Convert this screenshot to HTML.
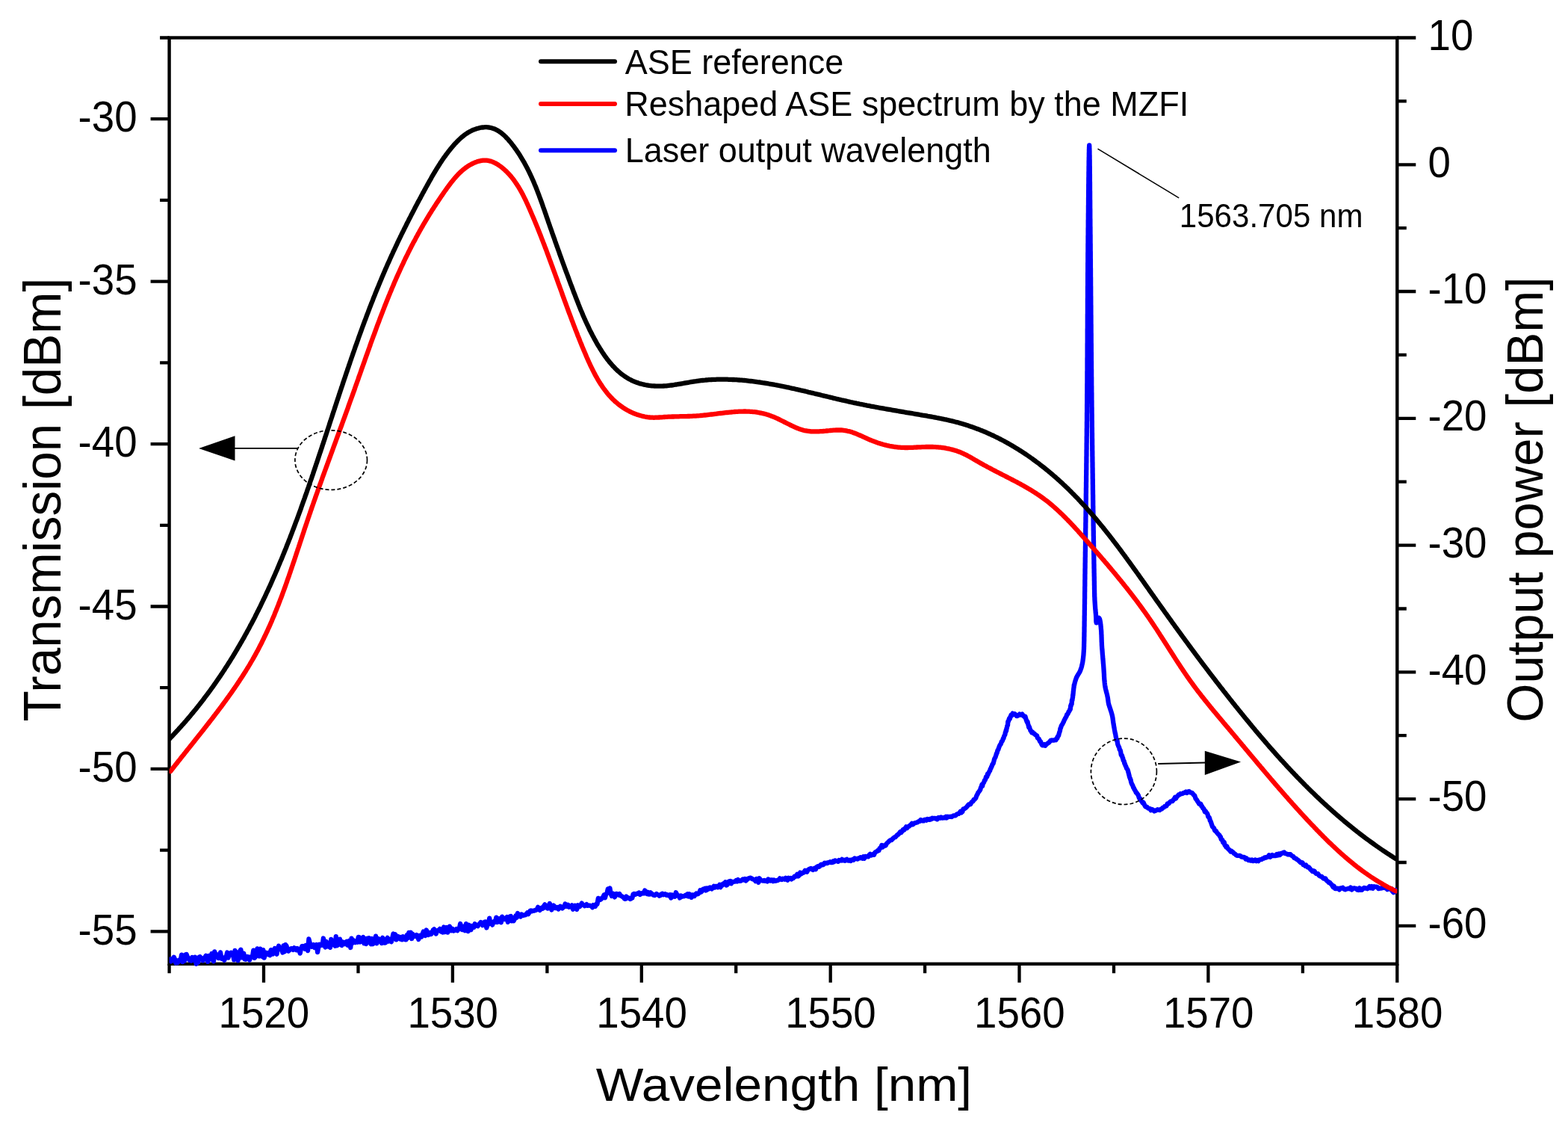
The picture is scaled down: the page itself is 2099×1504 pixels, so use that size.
<!DOCTYPE html>
<html><head><meta charset="utf-8"><title>ASE spectrum</title>
<style>html,body{margin:0;padding:0;background:#fff;overflow:hidden}svg{display:block}</style>
</head><body>
<svg width="2099" height="1504" viewBox="0 0 2099 1504">
<rect width="100%" height="100%" fill="#fff"/>
<rect x="226.6" y="50.5" width="1643.7" height="1239.3" fill="none" stroke="#000" stroke-width="4.4"/>
<path d="M226.6 50.5H214.1M226.6 159.2H201.6M226.6 267.9H214.1M226.6 376.6H201.6M226.6 485.3H214.1M226.6 594.1H201.6M226.6 702.8H214.1M226.6 811.5H201.6M226.6 920.2H214.1M226.6 1028.9H201.6M226.6 1137.6H214.1M226.6 1246.3H201.6M1870.3 50.5H1895.3M1870.3 135.4H1882.8M1870.3 220.3H1895.3M1870.3 305.2H1882.8M1870.3 390.0H1895.3M1870.3 474.9H1882.8M1870.3 559.8H1895.3M1870.3 644.7H1882.8M1870.3 729.6H1895.3M1870.3 814.5H1882.8M1870.3 899.3H1895.3M1870.3 984.2H1882.8M1870.3 1069.1H1895.3M1870.3 1154.0H1882.8M1870.3 1238.9H1895.3M226.6 1289.8V1302.3M353.0 1289.8V1314.8M479.5 1289.8V1302.3M605.9 1289.8V1314.8M732.4 1289.8V1302.3M858.8 1289.8V1314.8M985.2 1289.8V1302.3M1111.7 1289.8V1314.8M1238.1 1289.8V1302.3M1364.5 1289.8V1314.8M1491.0 1289.8V1302.3M1617.4 1289.8V1314.8M1743.9 1289.8V1302.3M1870.3 1289.8V1314.8" stroke="#000" stroke-width="4.3" fill="none"/>
<defs><clipPath id="pc"><rect x="226.6" y="0" width="1643.7" height="1504"/></clipPath></defs>
<g fill="none" stroke-linejoin="round" stroke-linecap="round" stroke-width="6.30" clip-path="url(#pc)">
<path d="M227.5 1283.5L228.8 1286.4 230.1 1283.5 231.4 1283.1 232.7 1280.7 234.0 1283.4 235.3 1288.5 236.6 1285.8 237.9 1288.1 239.2 1285.0 240.5 1285.5 241.8 1284.7 243.1 1277.6 244.4 1287.2 245.7 1285.8 247.0 1285.7 248.3 1277.3 249.6 1277.0 250.9 1280.3 252.2 1281.8 253.5 1284.7 254.8 1283.4 256.1 1285.5 257.4 1281.0 258.7 1284.6 260.0 1284.9 261.3 1280.8 262.6 1289.9 263.9 1285.4 265.2 1287.8 266.5 1280.8 267.8 1280.3 269.1 1281.7 270.4 1282.6 271.7 1285.3 273.0 1283.7 274.3 1280.9 275.6 1278.9 276.9 1280.4 278.2 1286.8 279.5 1279.0 280.8 1282.8 282.1 1283.4 283.4 1276.0 284.7 1281.6 286.0 1286.2 287.3 1273.5 288.6 1279.7 289.9 1280.3 291.2 1277.4 292.5 1282.1 293.8 1279.8 295.1 1274.4 296.4 1282.8 297.7 1282.1 299.0 1283.0 300.3 1284.8 301.6 1280.7 302.9 1279.8 304.2 1274.5 305.5 1281.6 306.8 1277.1 308.1 1277.7 309.4 1274.7 310.7 1275.8 312.0 1277.5 313.3 1284.3 314.6 1272.0 315.9 1274.2 317.2 1280.6 318.5 1285.2 319.8 1282.1 321.1 1272.9 322.4 1270.7 323.7 1281.4 325.0 1277.3 326.3 1275.9 327.6 1283.5 328.9 1283.8 330.2 1280.1 331.5 1280.2 332.8 1280.6 334.1 1284.6 335.4 1280.6 336.7 1279.9 338.0 1279.7 339.3 1271.6 340.6 1281.9 341.9 1280.5 343.2 1278.7 344.5 1269.4 345.8 1274.2 347.1 1279.5 348.4 1269.7 349.7 1275.5 351.0 1279.9 352.3 1271.2 353.6 1281.7 354.9 1277.6 356.2 1274.8 357.5 1276.3 358.8 1277.1 360.1 1274.9 361.4 1278.2 362.7 1271.2 364.0 1271.7 365.3 1276.6 366.6 1272.5 367.9 1268.9 369.2 1275.2 370.5 1276.7 371.8 1269.4 373.1 1265.7 374.4 1269.9 375.7 1269.5 377.0 1268.7 378.3 1274.6 379.6 1265.5 380.9 1273.5 382.2 1264.2 383.5 1265.8 384.8 1270.8 386.1 1272.6 387.4 1271.6 388.7 1269.8 390.0 1269.2 391.3 1269.3 392.6 1270.9 393.9 1268.3 395.2 1270.1 396.5 1271.1 397.8 1269.0 399.1 1271.7 400.4 1270.7 401.7 1275.6 403.0 1269.2 404.3 1266.2 405.6 1266.0 406.9 1266.9 408.2 1269.8 409.5 1265.0 410.8 1267.3 412.1 1272.1 413.4 1256.5 414.7 1261.5 416.0 1266.2 417.3 1266.8 418.6 1266.3 419.9 1264.1 421.2 1267.9 422.5 1266.7 423.8 1264.0 425.1 1274.1 426.4 1266.9 427.7 1263.7 429.0 1265.1 430.3 1264.5 431.6 1264.8 432.9 1255.5 434.2 1262.8 435.5 1267.5 436.8 1259.9 438.1 1263.3 439.4 1266.5 440.7 1265.9 442.0 1267.8 443.3 1257.0 444.6 1261.3 445.9 1261.2 447.2 1264.3 448.5 1265.7 449.8 1253.2 451.1 1265.4 452.4 1257.1 453.7 1263.8 455.0 1256.7 456.3 1261.9 457.6 1265.0 458.9 1260.5 460.2 1261.3 461.5 1263.1 462.8 1260.8 464.1 1259.8 465.4 1264.8 466.7 1263.0 468.0 1258.6 469.3 1268.0 470.6 1255.7 471.9 1262.0 473.2 1258.2 474.5 1259.4 475.8 1261.1 477.1 1259.5 478.4 1260.7 479.7 1254.0 481.0 1254.1 482.3 1260.5 483.6 1255.7 484.9 1255.5 486.2 1254.1 487.5 1262.4 488.8 1260.8 490.1 1263.0 491.4 1255.8 492.7 1258.6 494.0 1255.3 495.3 1260.9 496.6 1263.3 497.9 1256.0 499.2 1263.2 500.5 1261.4 501.8 1257.9 503.1 1252.6 504.4 1262.4 505.7 1258.0 507.0 1256.4 508.3 1259.2 509.6 1259.1 510.9 1262.1 512.2 1254.8 513.5 1260.8 514.8 1261.7 516.1 1261.4 517.4 1256.6 518.7 1254.9 520.0 1259.6 521.3 1256.9 522.6 1256.8 523.9 1260.2 525.2 1255.3 526.5 1249.5 527.8 1254.6 529.1 1250.3 530.4 1257.4 531.7 1255.8 533.0 1253.0 534.3 1254.4 535.6 1256.4 536.9 1254.1 538.2 1257.3 539.5 1253.3 540.8 1256.1 542.1 1257.2 543.4 1257.4 544.7 1251.1 546.0 1255.3 547.3 1247.9 548.6 1250.1 549.9 1247.8 551.2 1256.0 552.5 1249.8 553.8 1253.1 555.1 1252.5 556.4 1252.9 557.7 1251.2 559.0 1253.1 560.3 1256.9 561.6 1251.9 562.9 1252.7 564.2 1253.5 565.5 1249.9 566.8 1246.6 568.1 1248.0 569.4 1252.0 570.7 1244.5 572.0 1246.9 573.3 1250.9 574.6 1250.2 575.9 1248.0 577.2 1249.9 578.5 1248.1 579.8 1244.5 581.1 1243.4 582.4 1245.7 583.7 1249.6 585.0 1245.7 586.3 1244.7 587.6 1245.0 588.9 1242.9 590.2 1246.4 591.5 1243.7 592.8 1247.5 594.1 1240.5 595.4 1247.2 596.7 1244.6 598.0 1241.1 599.3 1247.6 600.6 1244.9 601.9 1239.6 603.2 1242.7 604.5 1245.2 605.8 1242.9 607.1 1245.5 608.4 1245.0 609.7 1244.3 611.0 1243.1 612.3 1245.2 613.6 1243.2 614.9 1242.4 616.2 1236.0 617.5 1243.2 618.8 1244.0 620.1 1240.0 621.4 1239.5 622.7 1245.3 624.0 1236.2 625.3 1241.5 626.6 1246.1 627.9 1237.8 629.2 1241.5 630.5 1244.1 631.8 1239.0 633.1 1240.3 634.4 1240.8 635.7 1236.2 637.0 1237.8 638.3 1238.3 639.6 1239.2 640.9 1236.9 642.2 1236.2 643.5 1234.0 644.8 1235.3 646.1 1238.1 647.4 1236.0 648.7 1233.6 650.0 1233.5 651.3 1241.5 652.6 1237.7 653.9 1236.4 655.2 1228.6 656.5 1235.8 657.8 1235.2 659.1 1237.6 660.4 1234.4 661.7 1232.8 663.0 1233.7 664.3 1227.6 665.6 1234.0 666.9 1232.0 668.2 1229.2 669.5 1233.5 670.8 1234.2 672.1 1226.7 673.4 1228.2 674.7 1230.2 676.0 1229.9 677.3 1228.5 678.6 1227.1 679.9 1233.9 681.2 1231.4 682.5 1226.4 683.8 1225.9 685.1 1232.4 686.4 1230.6 687.7 1232.1 689.0 1229.6 690.3 1225.6 691.6 1227.7 692.9 1222.0 694.2 1224.6 695.5 1225.7 696.8 1226.5 698.1 1223.4 699.4 1224.2 700.7 1225.0 702.0 1224.4 703.3 1224.4 704.6 1223.0 705.9 1221.3 707.2 1223.1 708.5 1221.0 709.8 1218.6 711.1 1218.5 712.4 1219.3 713.7 1218.6 715.0 1218.7 716.3 1217.9 717.6 1217.8 718.9 1216.7 720.2 1213.9 721.5 1216.9 722.8 1217.9 724.1 1216.2 725.4 1214.6 726.7 1215.6 728.0 1212.4 729.3 1210.4 730.6 1214.3 731.9 1212.2 733.2 1215.6 734.5 1212.0 735.8 1208.9 737.1 1212.2 738.4 1217.5 739.7 1213.6 741.0 1211.6 742.3 1212.8 743.6 1215.2 744.9 1215.0 746.2 1214.1 747.5 1216.4 748.8 1214.5 750.1 1212.7 751.4 1213.6 752.7 1215.4 754.0 1213.8 755.3 1213.7 756.6 1209.4 757.9 1211.1 759.2 1212.8 760.5 1210.8 761.8 1213.6 763.1 1212.8 764.4 1213.5 765.7 1211.4 767.0 1216.8 768.3 1214.4 769.6 1211.7 770.9 1212.3 772.2 1216.9 773.5 1211.2 774.8 1213.3 776.1 1213.2 777.4 1211.1 778.7 1208.6 780.0 1210.9 781.3 1211.0 782.6 1212.2 783.9 1211.5 785.2 1210.1 786.5 1211.8 787.8 1211.6 789.1 1211.6 790.4 1212.0 791.7 1212.1 793.0 1214.2 794.3 1211.1 795.6 1211.9 796.9 1212.8 798.2 1209.7 799.5 1209.8 800.8 1201.9 802.1 1202.5 803.4 1203.9 804.7 1203.2 806.0 1201.5 807.3 1200.5 808.6 1197.5 809.9 1201.3 811.2 1196.6 812.5 1195.1 813.8 1189.4 815.1 1189.8 816.4 1188.5 817.7 1196.4 819.0 1199.0 820.3 1195.4 821.6 1198.9 822.9 1200.3 824.2 1196.0 825.5 1195.8 826.8 1197.0 828.1 1197.6 829.4 1196.1 830.7 1198.6 832.0 1199.0 833.3 1199.9 834.6 1200.6 835.9 1202.6 837.2 1202.9 838.5 1199.6 839.8 1201.7 841.1 1201.4 842.4 1201.7 843.7 1203.0 845.0 1202.3 846.3 1201.6 847.6 1196.5 848.9 1195.9 850.2 1197.0 851.5 1196.3 852.8 1195.7 854.1 1195.9 855.4 1194.6 856.7 1197.0 858.0 1196.3 859.3 1195.6 860.6 1194.6 861.9 1195.4 863.2 1191.4 864.5 1194.2 865.8 1196.0 867.1 1193.7 868.4 1196.6 869.7 1196.6 871.0 1194.4 872.3 1196.3 873.6 1196.4 874.9 1197.7 876.2 1198.1 877.5 1197.2 878.8 1196.0 880.1 1197.2 881.4 1197.4 882.7 1198.7 884.0 1198.1 885.3 1196.6 886.6 1195.7 887.9 1197.2 889.2 1196.7 890.5 1196.2 891.8 1197.7 893.1 1197.2 894.4 1198.1 895.7 1198.8 897.0 1197.3 898.3 1201.5 899.6 1197.4 900.9 1199.6 902.2 1198.1 903.5 1199.6 904.8 1194.3 906.1 1196.8 907.4 1198.3 908.7 1198.9 910.0 1201.5 911.3 1198.5 912.6 1199.9 913.9 1199.1 915.2 1199.4 916.5 1198.7 917.8 1197.7 919.1 1198.6 920.4 1196.3 921.7 1199.5 923.0 1196.3 924.3 1198.1 925.6 1200.8 926.9 1197.3 928.2 1197.5 929.5 1199.0 930.8 1197.0 932.1 1195.5 933.4 1196.4 934.7 1196.0 936.0 1194.8 937.3 1191.3 938.6 1193.5 939.9 1192.4 941.2 1189.7 942.5 1189.9 943.8 1188.9 945.1 1191.5 946.4 1188.4 947.7 1190.1 949.0 1188.2 950.3 1187.5 951.6 1189.1 952.9 1189.5 954.2 1187.3 955.5 1185.9 956.8 1187.5 958.1 1185.9 959.4 1186.0 960.7 1187.3 962.0 1186.4 963.3 1183.8 964.6 1187.2 965.9 1183.8 967.2 1184.5 968.5 1182.3 969.8 1182.7 971.1 1180.2 972.4 1184.5 973.7 1183.7 975.0 1180.0 976.3 1179.3 977.6 1178.9 978.9 1182.3 980.2 1179.9 981.5 1180.1 982.8 1179.6 984.1 1179.6 985.4 1178.1 986.7 1179.3 988.0 1177.1 989.3 1178.6 990.6 1178.9 991.9 1178.7 993.2 1177.6 994.5 1176.4 995.8 1177.4 997.1 1176.2 998.4 1178.5 999.7 1177.2 1001.0 1175.9 1002.3 1175.3 1003.6 1174.9 1004.9 1174.6 1006.2 1175.4 1007.5 1176.3 1008.8 1176.7 1010.1 1177.0 1011.4 1179.1 1012.7 1176.0 1014.0 1177.1 1015.3 1180.8 1016.6 1175.3 1017.9 1177.2 1019.2 1178.2 1020.5 1178.3 1021.8 1178.7 1023.1 1178.0 1024.4 1178.9 1025.7 1178.6 1027.0 1179.5 1028.3 1176.4 1029.6 1177.6 1030.9 1178.6 1032.2 1177.4 1033.5 1177.3 1034.8 1179.1 1036.1 1177.5 1037.4 1178.8 1038.7 1178.7 1040.0 1178.0 1041.3 1178.0 1042.6 1177.1 1043.9 1175.4 1045.2 1176.7 1046.5 1177.0 1047.8 1175.7 1049.1 1176.1 1050.4 1176.8 1051.7 1174.9 1053.0 1176.5 1054.3 1177.7 1055.6 1174.8 1056.9 1175.4 1058.2 1174.9 1059.5 1176.4 1060.8 1174.8 1062.1 1175.0 1063.4 1172.7 1064.7 1172.9 1066.0 1172.3 1067.3 1169.7 1068.6 1172.4 1069.9 1171.1 1071.2 1167.6 1072.5 1169.5 1073.8 1167.9 1075.1 1167.9 1076.4 1167.2 1077.7 1164.7 1079.0 1165.5 1080.3 1166.7 1081.6 1164.1 1082.9 1163.2 1084.2 1162.4 1085.5 1162.0 1086.8 1163.1 1088.1 1164.0 1089.4 1162.3 1090.7 1161.6 1092.0 1163.1 1093.3 1159.9 1094.6 1159.2 1095.9 1159.9 1097.2 1159.3 1098.5 1157.3 1099.8 1156.6 1101.1 1157.4 1102.4 1156.8 1103.7 1154.8 1105.0 1155.3 1106.3 1154.6 1107.6 1155.1 1108.9 1154.1 1110.2 1153.8 1111.5 1153.2 1112.8 1154.2 1114.1 1154.2 1115.4 1152.2 1116.7 1153.1 1118.0 1151.4 1119.3 1151.9 1120.6 1152.4 1121.9 1152.9 1123.2 1151.0 1124.5 1151.3 1125.8 1151.5 1127.1 1149.9 1128.4 1151.4 1129.7 1150.8 1131.0 1151.8 1132.3 1150.5 1133.6 1149.8 1134.9 1151.5 1136.2 1151.7 1137.5 1150.8 1138.8 1151.9 1140.1 1150.6 1141.4 1150.0 1142.7 1150.7 1144.0 1148.5 1145.3 1149.0 1146.6 1149.2 1147.9 1149.6 1149.2 1148.3 1150.5 1148.4 1151.8 1147.2 1153.1 1147.8 1154.4 1148.7 1155.7 1146.4 1157.0 1148.8 1158.3 1145.9 1159.6 1146.2 1160.9 1146.0 1162.2 1146.4 1163.5 1144.0 1164.8 1142.8 1166.1 1144.6 1167.4 1144.1 1168.7 1143.0 1170.0 1143.8 1171.3 1140.7 1172.6 1139.7 1173.9 1139.3 1175.2 1137.9 1176.5 1138.0 1177.8 1134.7 1179.1 1134.4 1180.4 1130.9 1181.7 1133.4 1183.0 1131.5 1184.3 1131.5 1185.6 1131.5 1186.9 1128.7 1188.2 1127.5 1189.5 1126.3 1190.8 1125.0 1192.1 1124.1 1193.4 1124.1 1194.7 1122.6 1196.0 1121.5 1197.3 1120.3 1198.6 1120.1 1199.9 1118.7 1201.2 1117.1 1202.5 1116.7 1203.8 1115.0 1205.1 1113.1 1206.4 1114.0 1207.7 1112.1 1209.0 1109.9 1210.3 1110.5 1211.6 1108.8 1212.9 1106.4 1214.2 1108.0 1215.5 1106.1 1216.8 1105.8 1218.1 1104.5 1219.4 1103.5 1220.7 1101.9 1222.0 1103.2 1223.3 1101.9 1224.6 1101.1 1225.9 1101.1 1227.2 1100.4 1228.5 1100.3 1229.8 1099.1 1231.1 1098.9 1232.4 1097.0 1233.7 1097.8 1235.0 1098.3 1236.3 1098.4 1237.6 1096.8 1238.9 1096.7 1240.2 1097.6 1241.5 1096.0 1242.8 1096.5 1244.1 1096.9 1245.4 1095.6 1246.7 1096.2 1248.0 1094.7 1249.3 1095.2 1250.6 1094.9 1251.9 1094.9 1253.2 1095.5 1254.5 1096.3 1255.8 1094.1 1257.1 1094.0 1258.4 1094.7 1259.7 1093.5 1261.0 1094.5 1262.3 1094.5 1263.6 1093.8 1264.9 1094.3 1266.2 1092.9 1267.5 1094.3 1268.8 1092.7 1270.1 1093.0 1271.4 1092.8 1272.7 1092.7 1274.0 1093.1 1275.3 1092.1 1276.6 1091.3 1277.9 1091.3 1279.2 1091.3 1280.5 1089.7 1281.8 1089.2 1283.1 1089.0 1284.4 1087.6 1285.7 1085.8 1287.0 1087.3 1288.3 1086.1 1289.6 1082.4 1290.9 1082.4 1292.2 1081.3 1293.5 1080.4 1294.3 1079.5 1295.5 1077.9 1296.7 1076.5 1298.0 1076.5 1299.2 1076.2 1300.3 1073.8 1301.4 1072.8 1302.5 1072.4 1303.5 1070.0 1304.5 1070.0 1305.4 1068.7 1306.2 1068.1 1306.9 1065.9 1307.5 1064.4 1308.1 1063.4 1308.7 1062.3 1309.4 1060.5 1310.1 1059.7 1310.8 1058.9 1311.5 1057.8 1312.2 1056.9 1313.0 1053.8 1313.7 1052.8 1314.4 1050.0 1315.1 1051.8 1315.8 1048.6 1316.5 1047.8 1317.2 1046.8 1317.9 1044.2 1318.6 1044.1 1319.3 1042.4 1319.9 1039.8 1320.6 1040.0 1321.3 1039.3 1321.9 1035.8 1322.6 1036.3 1323.2 1034.5 1323.9 1033.4 1324.5 1032.0 1325.2 1031.2 1325.8 1028.8 1326.5 1028.2 1327.1 1026.0 1327.7 1025.4 1328.4 1022.9 1329.0 1022.1 1329.5 1022.0 1330.1 1019.7 1330.6 1017.8 1331.1 1015.7 1331.6 1014.6 1332.1 1013.8 1332.6 1012.9 1333.1 1011.2 1333.6 1009.8 1334.1 1008.0 1334.6 1007.6 1335.2 1005.0 1335.7 1003.5 1336.3 1003.1 1336.9 1001.1 1337.5 999.5 1338.1 997.9 1338.7 996.8 1339.4 996.1 1340.1 994.6 1340.8 992.2 1341.5 992.0 1342.2 990.5 1342.8 988.3 1343.4 988.1 1343.9 986.0 1344.4 984.5 1344.9 983.9 1345.4 982.9 1345.8 980.0 1346.3 979.4 1346.7 977.0 1347.1 977.8 1347.5 974.4 1347.9 974.1 1348.3 971.4 1348.6 970.9 1349.0 970.5 1349.3 965.7 1349.7 965.7 1350.1 964.9 1350.5 963.1 1351.1 961.3 1351.8 961.9 1352.6 959.2 1353.5 956.8 1354.5 957.4 1355.6 954.6 1356.9 955.9 1358.4 955.2 1359.7 956.4 1360.9 958.1 1362.2 958.0 1363.7 957.0 1364.8 955.7 1365.7 956.6 1367.1 955.9 1368.4 955.5 1369.6 957.6 1370.7 958.4 1371.7 959.6 1372.5 958.8 1373.2 961.5 1373.9 963.7 1374.4 965.0 1375.0 966.5 1375.5 965.5 1376.1 968.8 1376.7 970.4 1377.2 973.2 1377.7 972.2 1378.3 974.0 1378.9 975.6 1379.5 977.6 1380.3 978.0 1381.2 980.2 1382.4 979.8 1383.6 981.4 1384.8 981.8 1386.0 983.2 1387.0 983.7 1388.0 984.2 1388.9 987.3 1389.7 988.0 1390.6 988.6 1391.4 990.4 1392.2 992.2 1392.9 992.1 1393.6 994.1 1394.3 995.8 1395.2 997.1 1396.3 997.4 1397.8 996.0 1399.2 997.7 1400.5 996.3 1401.7 995.2 1403.0 994.2 1404.2 993.6 1405.3 992.2 1406.5 990.9 1407.9 990.5 1409.4 990.6 1410.9 990.5 1412.4 989.9 1413.6 990.2 1414.6 987.7 1415.4 987.8 1416.0 985.3 1416.6 984.9 1417.1 984.2 1417.6 982.0 1418.2 979.9 1418.6 979.0 1419.0 977.6 1419.4 974.9 1419.8 974.2 1420.2 973.3 1420.7 971.4 1421.2 970.4 1421.9 969.5 1422.6 968.2 1423.2 967.0 1424.0 965.5 1424.7 963.5 1425.4 962.4 1426.1 960.9 1426.9 959.6 1427.6 958.4 1428.3 956.0 1429.1 955.6 1429.8 954.5 1430.5 952.5 1431.2 951.9 1431.7 950.9 1432.3 949.0 1432.8 949.1 1433.2 944.4 1433.6 944.7 1434.0 942.1 1434.3 942.6 1434.6 942.3 1434.9 937.2 1435.2 937.6 1435.5 936.4 1435.7 934.3 1436.0 933.4 1436.2 930.0 1436.4 930.7 1436.5 928.8 1436.7 927.1 1436.8 925.2 1437.0 924.6 1437.2 922.3 1437.3 921.3 1437.6 919.3 1437.8 916.6 1438.1 916.7 1438.4 915.2 1438.7 913.8 1439.1 912.3 1439.5 910.9 1440.0 909.4 1440.5 908.0 1441.0 906.6 1441.7 905.3 1442.4 904.0 1443.2 902.7 1444.0 901.4 1444.8 900.1 1445.5 898.8 1446.1 897.4 1446.6 896.0 1447.1 894.6 1447.6 893.2 1448.0 891.8 1448.3 890.3 1448.7 888.8 1449.0 887.4 1449.3 885.9 1449.5 884.4 1449.7 882.9 1449.9 881.4 1450.1 879.9 1450.2 878.5 1450.4 877.0 1450.5 875.5 1450.6 874.0 1450.7 872.5 1450.8 871.0 1450.9 869.5 1451.0 868.0 1451.0 866.5 1451.1 865.0 1451.1 863.5 1451.1 862.0 1451.2 860.5 1451.2 859.0 1451.3 857.5 1451.3 856.0 1451.3 854.5 1451.3 853.0 1451.4 851.5 1451.4 850.0 1451.4 848.5 1451.4 847.0 1451.5 845.5 1451.5 844.0 1451.5 842.5 1451.5 841.0 1451.5 839.5 1451.6 838.0 1451.6 836.5 1451.6 835.0 1451.6 833.5 1451.6 832.0 1451.7 830.5 1451.7 829.0 1451.7 827.5 1451.7 826.0 1451.7 824.5 1451.8 823.0 1451.8 821.5 1451.8 820.0 1451.8 818.5 1451.8 817.0 1451.9 815.5 1451.9 814.0 1451.9 812.5 1451.9 811.0 1451.9 809.5 1452.0 808.0 1452.0 806.5 1452.0 805.0 1452.0 803.5 1452.0 802.0 1452.1 800.5 1452.1 799.0 1452.1 797.5 1452.1 796.0 1452.1 794.5 1452.1 793.0 1452.2 791.5 1452.2 790.0 1452.2 788.5 1452.2 787.0 1452.2 785.5 1452.3 784.0 1452.3 782.5 1452.3 781.0 1452.3 779.5 1452.3 778.0 1452.3 776.5 1452.4 775.0 1452.4 773.5 1452.4 772.0 1452.4 770.5 1452.4 769.0 1452.5 767.5 1452.5 766.0 1452.5 764.5 1452.5 763.0 1452.5 761.5 1452.6 760.0 1452.6 758.5 1452.6 757.0 1452.6 755.5 1452.6 754.0 1452.7 752.5 1452.7 751.0 1452.7 749.5 1452.7 748.0 1452.7 746.5 1452.8 745.0 1452.8 743.5 1452.8 742.0 1452.8 740.5 1452.8 739.0 1452.9 737.5 1452.9 736.0 1452.9 734.5 1452.9 733.0 1452.9 731.5 1453.0 730.0 1453.0 728.5 1453.0 727.0 1453.0 725.5 1453.0 724.0 1453.1 722.5 1453.1 721.0 1453.1 719.5 1453.1 718.0 1453.1 716.5 1453.2 715.0 1453.2 713.5 1453.2 712.0 1453.2 710.5 1453.2 709.0 1453.2 707.5 1453.3 706.0 1453.3 704.5 1453.3 703.0 1453.3 701.5 1453.3 700.0 1453.4 698.5 1453.4 697.0 1453.4 695.5 1453.4 694.0 1453.4 692.5 1453.5 691.0 1453.5 689.5 1453.5 688.0 1453.5 686.5 1453.5 685.0 1453.6 683.5 1453.6 682.0 1453.6 680.5 1453.6 679.0 1453.6 677.5 1453.7 676.0 1453.7 674.5 1453.7 673.0 1453.7 671.5 1453.7 670.0 1453.8 668.5 1453.8 667.0 1453.8 665.5 1453.8 664.0 1453.8 662.5 1453.8 661.0 1453.9 659.5 1453.9 658.0 1453.9 656.5 1453.9 655.0 1453.9 653.5 1454.0 652.0 1454.0 650.5 1454.0 649.0 1454.0 647.5 1454.0 646.0 1454.1 644.5 1454.1 643.0 1454.1 641.5 1454.1 640.0 1454.1 638.5 1454.1 637.0 1454.2 635.5 1454.2 634.0 1454.2 632.5 1454.2 631.0 1454.2 629.5 1454.3 628.0 1454.3 626.5 1454.3 625.0 1454.3 623.5 1454.3 622.0 1454.3 620.5 1454.4 619.0 1454.4 617.5 1454.4 616.0 1454.4 614.5 1454.4 613.0 1454.4 611.5 1454.5 610.0 1454.5 608.5 1454.5 607.0 1454.5 605.5 1454.5 604.0 1454.5 602.5 1454.6 601.0 1454.6 599.5 1454.6 598.0 1454.6 596.5 1454.6 595.0 1454.6 593.5 1454.7 592.0 1454.7 590.5 1454.7 589.0 1454.7 587.5 1454.7 586.0 1454.7 584.5 1454.8 583.0 1454.8 581.5 1454.8 580.0 1454.8 578.5 1454.8 577.0 1454.8 575.5 1454.8 574.0 1454.9 572.5 1454.9 571.0 1454.9 569.5 1454.9 568.0 1454.9 566.5 1454.9 565.0 1455.0 563.5 1455.0 562.0 1455.0 560.5 1455.0 559.0 1455.0 557.5 1455.0 556.0 1455.0 554.5 1455.0 553.0 1455.1 551.5 1455.1 550.0 1455.1 548.5 1455.1 547.0 1455.1 545.5 1455.1 544.0 1455.1 542.5 1455.1 541.0 1455.2 539.5 1455.2 538.0 1455.2 536.5 1455.2 535.0 1455.2 533.5 1455.2 532.0 1455.2 530.5 1455.2 529.0 1455.2 527.5 1455.3 526.0 1455.3 524.5 1455.3 523.0 1455.3 521.5 1455.3 520.0 1455.3 518.5 1455.3 517.0 1455.3 515.5 1455.3 514.0 1455.4 512.5 1455.4 511.0 1455.4 509.5 1455.4 508.0 1455.4 506.5 1455.4 505.0 1455.4 503.5 1455.4 502.0 1455.4 500.5 1455.4 499.0 1455.4 497.5 1455.5 496.0 1455.5 494.5 1455.5 493.0 1455.5 491.5 1455.5 490.0 1455.5 488.5 1455.5 487.0 1455.5 485.5 1455.5 484.0 1455.5 482.5 1455.5 481.0 1455.5 479.5 1455.6 478.0 1455.6 476.5 1455.6 475.0 1455.6 473.5 1455.6 472.0 1455.6 470.5 1455.6 469.0 1455.6 467.5 1455.6 466.0 1455.6 464.5 1455.6 463.0 1455.6 461.5 1455.6 460.0 1455.7 458.5 1455.7 457.0 1455.7 455.5 1455.7 454.0 1455.7 452.5 1455.7 451.0 1455.7 449.5 1455.7 448.0 1455.7 446.5 1455.7 445.0 1455.7 443.5 1455.7 442.0 1455.7 440.5 1455.8 439.0 1455.8 437.5 1455.8 436.0 1455.8 434.5 1455.8 433.0 1455.8 431.5 1455.8 430.0 1455.8 428.5 1455.8 427.0 1455.8 425.5 1455.8 424.0 1455.8 422.5 1455.8 421.0 1455.9 419.5 1455.9 418.0 1455.9 416.5 1455.9 415.0 1455.9 413.5 1455.9 412.0 1455.9 410.5 1455.9 409.0 1455.9 407.5 1455.9 406.0 1455.9 404.5 1455.9 403.0 1455.9 401.5 1455.9 400.0 1456.0 398.5 1456.0 397.0 1456.0 395.5 1456.0 394.0 1456.0 392.5 1456.0 391.0 1456.0 389.5 1456.0 388.0 1456.0 386.5 1456.0 385.0 1456.0 383.5 1456.1 382.0 1456.1 380.5 1456.1 379.0 1456.1 377.5 1456.1 376.0 1456.1 374.5 1456.1 373.0 1456.1 371.5 1456.1 370.0 1456.1 368.5 1456.1 367.0 1456.1 365.5 1456.2 364.0 1456.2 362.5 1456.2 361.0 1456.2 359.5 1456.2 358.0 1456.2 356.5 1456.2 355.0 1456.2 353.5 1456.2 352.0 1456.3 350.5 1456.3 349.0 1456.3 347.5 1456.3 346.0 1456.3 344.5 1456.3 343.0 1456.3 341.5 1456.3 340.0 1456.3 338.5 1456.4 337.0 1456.4 335.5 1456.4 334.0 1456.4 332.5 1456.4 331.0 1456.4 329.5 1456.4 328.0 1456.4 326.5 1456.5 325.0 1456.5 323.5 1456.5 322.0 1456.5 320.5 1456.5 319.0 1456.5 317.5 1456.5 316.0 1456.6 314.5 1456.6 313.0 1456.6 311.5 1456.6 310.0 1456.6 308.5 1456.6 307.0 1456.6 305.5 1456.7 304.0 1456.7 302.5 1456.7 301.0 1456.7 299.5 1456.7 298.0 1456.7 296.5 1456.7 295.0 1456.8 293.5 1456.8 292.0 1456.8 290.5 1456.8 289.0 1456.8 287.5 1456.8 286.0 1456.9 284.5 1456.9 283.0 1456.9 281.5 1456.9 280.0 1456.9 278.5 1456.9 277.0 1456.9 275.5 1457.0 274.0 1457.0 272.5 1457.0 271.0 1457.0 269.5 1457.0 268.0 1457.0 266.5 1457.0 265.0 1457.1 263.5 1457.1 262.0 1457.1 260.5 1457.1 259.0 1457.1 257.5 1457.1 256.0 1457.2 254.5 1457.2 253.0 1457.2 251.5 1457.2 250.0 1457.2 248.5 1457.2 247.0 1457.3 245.5 1457.3 244.0 1457.3 242.5 1457.3 241.0 1457.3 239.5 1457.3 238.0 1457.4 236.5 1457.4 235.0 1457.4 233.5 1457.4 232.0 1457.4 230.5 1457.5 229.0 1457.5 227.5 1457.5 226.0 1457.5 224.5 1457.5 223.0 1457.6 221.5 1457.6 220.0 1457.6 218.5 1457.6 217.0 1457.6 215.5 1457.7 214.0 1457.7 212.5 1457.7 211.0 1457.8 209.5 1457.8 208.0 1457.8 206.5 1457.8 205.0 1457.9 203.5 1457.9 202.0 1457.9 200.5 1458.0 199.0 1458.0 197.5 1458.1 196.0 1458.2 194.5 1458.3 196.0 1458.3 197.5 1458.4 199.0 1458.4 200.5 1458.5 202.0 1458.5 203.5 1458.5 205.0 1458.5 206.5 1458.6 208.0 1458.6 209.5 1458.6 211.0 1458.6 212.5 1458.7 214.0 1458.7 215.5 1458.7 217.0 1458.7 218.5 1458.7 220.0 1458.7 221.5 1458.8 223.0 1458.8 224.5 1458.8 226.0 1458.8 227.5 1458.8 229.0 1458.8 230.5 1458.8 232.0 1458.9 233.5 1458.9 235.0 1458.9 236.5 1458.9 238.0 1458.9 239.5 1458.9 241.0 1458.9 242.5 1459.0 244.0 1459.0 245.5 1459.0 247.0 1459.0 248.5 1459.0 250.0 1459.0 251.5 1459.0 253.0 1459.0 254.5 1459.1 256.0 1459.1 257.5 1459.1 259.0 1459.1 260.5 1459.1 262.0 1459.1 263.5 1459.1 265.0 1459.1 266.5 1459.2 268.0 1459.2 269.5 1459.2 271.0 1459.2 272.5 1459.2 274.0 1459.2 275.5 1459.2 277.0 1459.2 278.5 1459.3 280.0 1459.3 281.5 1459.3 283.0 1459.3 284.5 1459.3 286.0 1459.3 287.5 1459.3 289.0 1459.3 290.5 1459.3 292.0 1459.4 293.5 1459.4 295.0 1459.4 296.5 1459.4 298.0 1459.4 299.5 1459.4 301.0 1459.4 302.5 1459.5 304.0 1459.5 305.5 1459.5 307.0 1459.5 308.5 1459.5 310.0 1459.5 311.5 1459.5 313.0 1459.6 314.5 1459.6 316.0 1459.6 317.5 1459.6 319.0 1459.6 320.5 1459.6 322.0 1459.6 323.5 1459.6 325.0 1459.7 326.5 1459.7 328.0 1459.7 329.5 1459.7 331.0 1459.7 332.5 1459.7 334.0 1459.7 335.5 1459.8 337.0 1459.8 338.5 1459.8 340.0 1459.8 341.5 1459.8 343.0 1459.8 344.5 1459.8 346.0 1459.9 347.5 1459.9 349.0 1459.9 350.5 1459.9 352.0 1459.9 353.5 1459.9 355.0 1459.9 356.5 1459.9 358.0 1460.0 359.5 1460.0 361.0 1460.0 362.5 1460.0 364.0 1460.0 365.5 1460.0 367.0 1460.0 368.5 1460.0 370.0 1460.1 371.5 1460.1 373.0 1460.1 374.5 1460.1 376.0 1460.1 377.5 1460.1 379.0 1460.1 380.5 1460.1 382.0 1460.2 383.5 1460.2 385.0 1460.2 386.5 1460.2 388.0 1460.2 389.5 1460.2 391.0 1460.2 392.5 1460.2 394.0 1460.2 395.5 1460.3 397.0 1460.3 398.5 1460.3 400.0 1460.3 401.5 1460.3 403.0 1460.3 404.5 1460.3 406.0 1460.3 407.5 1460.4 409.0 1460.4 410.5 1460.4 412.0 1460.4 413.5 1460.4 415.0 1460.4 416.5 1460.4 418.0 1460.4 419.5 1460.4 421.0 1460.5 422.5 1460.5 424.0 1460.5 425.5 1460.5 427.0 1460.5 428.5 1460.5 430.0 1460.5 431.5 1460.5 433.0 1460.6 434.5 1460.6 436.0 1460.6 437.5 1460.6 439.0 1460.6 440.5 1460.6 442.0 1460.6 443.5 1460.6 445.0 1460.7 446.5 1460.7 448.0 1460.7 449.5 1460.7 451.0 1460.7 452.5 1460.7 454.0 1460.7 455.5 1460.7 457.0 1460.7 458.5 1460.8 460.0 1460.8 461.5 1460.8 463.0 1460.8 464.5 1460.8 466.0 1460.8 467.5 1460.8 469.0 1460.8 470.5 1460.9 472.0 1460.9 473.5 1460.9 475.0 1460.9 476.5 1460.9 478.0 1460.9 479.5 1460.9 481.0 1460.9 482.5 1461.0 484.0 1461.0 485.5 1461.0 487.0 1461.0 488.5 1461.0 490.0 1461.0 491.5 1461.0 493.0 1461.1 494.5 1461.1 496.0 1461.1 497.5 1461.1 499.0 1461.1 500.5 1461.1 502.0 1461.1 503.5 1461.2 505.0 1461.2 506.5 1461.2 508.0 1461.2 509.5 1461.2 511.0 1461.2 512.5 1461.2 514.0 1461.2 515.5 1461.3 517.0 1461.3 518.5 1461.3 520.0 1461.3 521.5 1461.3 523.0 1461.3 524.5 1461.4 526.0 1461.4 527.5 1461.4 529.0 1461.4 530.5 1461.4 532.0 1461.4 533.5 1461.4 535.0 1461.5 536.5 1461.5 538.0 1461.5 539.5 1461.5 541.0 1461.5 542.5 1461.5 544.0 1461.6 545.5 1461.6 547.0 1461.6 548.5 1461.6 550.0 1461.6 551.5 1461.6 553.0 1461.7 554.5 1461.7 556.0 1461.7 557.5 1461.7 559.0 1461.7 560.5 1461.7 562.0 1461.8 563.5 1461.8 565.0 1461.8 566.5 1461.8 568.0 1461.8 569.5 1461.8 571.0 1461.9 572.5 1461.9 574.0 1461.9 575.5 1461.9 577.0 1461.9 578.5 1462.0 580.0 1462.0 581.5 1462.0 583.0 1462.0 584.5 1462.0 586.0 1462.1 587.5 1462.1 589.0 1462.1 590.5 1462.1 592.0 1462.1 593.5 1462.1 595.0 1462.2 596.5 1462.2 598.0 1462.2 599.5 1462.2 601.0 1462.2 602.5 1462.3 604.0 1462.3 605.5 1462.3 607.0 1462.3 608.5 1462.3 610.0 1462.4 611.5 1462.4 613.0 1462.4 614.5 1462.4 616.0 1462.4 617.5 1462.5 619.0 1462.5 620.5 1462.5 622.0 1462.5 623.5 1462.5 625.0 1462.6 626.5 1462.6 628.0 1462.6 629.5 1462.6 631.0 1462.6 632.5 1462.7 634.0 1462.7 635.5 1462.7 637.0 1462.7 638.5 1462.7 640.0 1462.8 641.5 1462.8 643.0 1462.8 644.5 1462.8 646.0 1462.8 647.5 1462.9 649.0 1462.9 650.5 1462.9 652.0 1462.9 653.5 1462.9 655.0 1463.0 656.5 1463.0 658.0 1463.0 659.5 1463.0 661.0 1463.1 662.5 1463.1 664.0 1463.1 665.5 1463.1 667.0 1463.1 668.5 1463.2 670.0 1463.2 671.5 1463.2 673.0 1463.2 674.5 1463.2 676.0 1463.3 677.5 1463.3 679.0 1463.3 680.5 1463.3 682.0 1463.4 683.5 1463.4 685.0 1463.4 686.5 1463.4 688.0 1463.4 689.5 1463.5 691.0 1463.5 692.5 1463.5 694.0 1463.5 695.5 1463.6 697.0 1463.6 698.5 1463.6 700.0 1463.6 701.5 1463.6 703.0 1463.7 704.5 1463.7 706.0 1463.7 707.5 1463.7 709.0 1463.8 710.5 1463.8 712.0 1463.8 713.5 1463.8 715.0 1463.8 716.5 1463.9 718.0 1463.9 719.5 1463.9 721.0 1463.9 722.5 1464.0 724.0 1464.0 725.5 1464.0 727.0 1464.0 728.5 1464.1 730.0 1464.1 731.5 1464.1 733.0 1464.1 734.5 1464.1 736.0 1464.2 737.5 1464.2 739.0 1464.2 740.5 1464.2 742.0 1464.3 743.5 1464.3 745.0 1464.3 746.5 1464.3 748.0 1464.4 749.5 1464.4 751.0 1464.4 752.5 1464.4 754.0 1464.5 755.5 1464.5 757.0 1464.5 758.5 1464.5 760.0 1464.6 761.5 1464.6 763.0 1464.6 764.5 1464.6 766.0 1464.7 767.5 1464.7 769.0 1464.7 770.5 1464.8 772.0 1464.8 773.5 1464.8 775.0 1464.8 776.5 1464.9 778.0 1464.9 779.5 1464.9 781.0 1464.9 782.5 1465.0 784.0 1465.0 785.5 1465.0 787.0 1465.0 788.5 1465.1 790.0 1465.1 791.5 1465.1 793.0 1465.2 794.5 1465.2 796.0 1465.2 797.5 1465.3 799.0 1465.4 800.5 1465.4 802.0 1465.5 803.5 1465.6 805.0 1465.7 806.5 1465.8 808.0 1465.9 809.5 1466.0 811.0 1466.1 812.5 1466.2 814.0 1466.3 815.4 1466.5 816.9 1466.6 818.4 1466.7 819.9 1466.9 821.4 1467.0 822.9 1467.1 824.4 1467.2 825.9 1467.3 827.4 1467.3 828.9 1467.3 830.4 1467.4 831.9 1467.7 833.4 1468.7 832.2 1469.3 830.8 1469.8 829.4 1470.4 828.1 1471.3 826.9 1472.0 828.2 1472.4 829.6 1472.7 831.1 1473.0 832.6 1473.2 834.1 1473.3 835.5 1473.5 837.0 1473.7 838.5 1473.8 840.0 1473.9 841.5 1474.1 843.0 1474.2 844.5 1474.3 846.0 1474.3 847.5 1474.4 849.0 1474.5 850.5 1474.5 852.0 1474.6 853.5 1474.6 855.0 1474.7 856.5 1474.7 858.0 1474.8 859.5 1474.9 861.0 1474.9 862.5 1475.0 864.0 1475.1 865.5 1475.2 867.0 1475.3 868.5 1475.5 870.0 1475.6 871.5 1475.7 873.0 1475.8 874.5 1475.9 876.0 1476.1 877.4 1476.2 878.9 1476.3 880.4 1476.4 881.9 1476.6 883.4 1476.7 884.9 1476.8 886.4 1476.9 887.9 1477.1 889.4 1477.2 890.9 1477.3 892.4 1477.4 893.9 1477.5 895.4 1477.6 896.9 1477.7 898.4 1477.8 899.9 1477.9 901.4 1478.0 902.9 1478.0 904.4 1478.1 905.9 1478.2 907.4 1478.3 908.9 1478.4 910.4 1478.6 911.9 1478.7 913.3 1478.9 914.8 1479.0 916.3 1479.3 917.8 1479.5 919.3 1479.8 920.8 1480.1 922.2 1480.5 923.7 1480.8 925.1 1481.2 926.6 1481.6 928.0 1482.0 929.5 1482.3 931.0 1482.6 932.4 1482.9 933.9 1483.1 935.4 1483.3 936.9 1483.5 938.4 1483.7 939.8 1484.0 941.3 1484.3 942.8 1484.8 944.2 1485.2 945.6 1485.7 947.1 1486.2 948.5 1486.6 949.9 1487.1 951.3 1487.6 952.8 1488.0 954.2 1488.4 955.6 1488.8 957.1 1489.1 958.6 1489.4 960.0 1489.6 961.5 1489.8 963.0 1490.0 964.5 1490.2 966.0 1490.4 967.5 1490.6 968.9 1490.9 970.4 1491.1 971.9 1491.4 973.4 1491.7 974.9 1491.9 976.3 1492.2 977.8 1492.5 979.4 1492.8 981.3 1493.1 981.6 1493.4 983.7 1493.7 985.6 1494.0 986.7 1494.4 988.9 1494.8 990.9 1495.1 990.3 1495.6 991.1 1496.0 994.5 1496.4 996.4 1496.9 997.4 1497.3 998.7 1497.8 999.1 1498.3 1000.5 1498.7 1003.0 1499.2 1003.2 1499.7 1004.0 1500.2 1006.0 1500.7 1009.9 1501.2 1010.9 1501.7 1010.5 1502.2 1011.8 1502.7 1013.9 1503.2 1014.6 1503.7 1017.5 1504.2 1017.9 1504.7 1018.6 1505.3 1021.7 1505.8 1021.8 1506.3 1023.8 1506.9 1025.0 1507.5 1026.2 1508.0 1028.0 1508.6 1028.7 1509.1 1029.3 1509.7 1030.4 1510.2 1032.5 1510.7 1034.2 1511.2 1036.2 1511.6 1037.7 1512.0 1039.5 1512.4 1040.6 1512.8 1041.4 1513.2 1042.9 1513.6 1043.4 1514.1 1046.2 1514.7 1048.0 1515.3 1049.4 1515.9 1050.3 1516.5 1051.6 1517.2 1053.8 1517.9 1054.5 1518.6 1056.3 1519.3 1057.5 1520.0 1058.5 1520.8 1060.6 1521.5 1060.6 1522.3 1062.0 1523.1 1063.0 1523.9 1064.3 1524.7 1067.2 1525.5 1068.6 1526.3 1068.6 1527.1 1070.3 1528.0 1071.9 1528.9 1072.9 1529.7 1074.4 1530.6 1073.9 1531.4 1075.6 1532.3 1077.5 1533.3 1079.4 1534.3 1079.6 1535.4 1079.9 1536.6 1081.2 1537.9 1081.7 1539.3 1082.1 1540.7 1084.2 1542.2 1083.0 1543.6 1083.8 1545.1 1085.5 1546.6 1084.8 1548.1 1084.1 1549.6 1083.2 1551.1 1083.6 1552.5 1084.0 1553.9 1082.7 1555.2 1082.4 1556.5 1080.9 1557.8 1080.4 1559.1 1079.1 1560.3 1078.7 1561.5 1078.4 1562.7 1075.5 1563.8 1075.5 1564.9 1074.8 1566.1 1073.2 1567.2 1072.4 1568.4 1072.2 1569.5 1072.1 1570.7 1070.2 1571.8 1069.1 1573.0 1066.8 1574.2 1068.3 1575.4 1066.1 1576.5 1065.1 1577.8 1063.5 1579.1 1063.4 1580.4 1062.0 1581.7 1062.2 1583.1 1061.8 1584.5 1060.9 1585.9 1060.6 1587.4 1059.5 1588.9 1060.9 1590.4 1059.5 1591.8 1058.9 1593.3 1060.4 1594.7 1060.6 1596.0 1061.2 1597.2 1062.6 1598.2 1064.1 1599.1 1064.3 1599.8 1066.3 1600.6 1068.7 1601.3 1069.5 1602.0 1070.2 1602.8 1071.7 1603.5 1072.8 1604.4 1074.1 1605.4 1075.8 1606.4 1076.3 1607.4 1075.8 1608.4 1078.6 1609.3 1079.2 1610.3 1081.4 1611.1 1081.8 1612.0 1083.5 1612.8 1086.2 1613.6 1085.2 1614.4 1086.5 1615.1 1087.6 1615.9 1088.2 1616.6 1089.8 1617.3 1092.7 1618.0 1093.4 1618.7 1093.8 1619.3 1095.5 1619.9 1098.3 1620.5 1098.7 1621.1 1100.4 1621.7 1102.2 1622.4 1104.3 1623.0 1106.1 1623.7 1106.8 1624.5 1107.4 1625.3 1108.7 1626.1 1111.1 1627.0 1112.0 1627.9 1112.0 1628.8 1113.8 1629.7 1114.8 1630.6 1115.9 1631.4 1116.7 1632.3 1117.4 1633.1 1119.2 1633.9 1119.8 1634.7 1123.0 1635.5 1123.8 1636.3 1123.8 1637.1 1126.9 1637.9 1127.8 1638.8 1127.1 1639.6 1130.9 1640.5 1131.4 1641.4 1133.5 1642.3 1132.4 1643.2 1134.8 1644.2 1135.9 1645.2 1136.8 1646.3 1137.9 1647.4 1139.5 1648.5 1138.7 1649.7 1139.9 1650.9 1140.7 1652.1 1142.1 1653.4 1142.8 1654.7 1144.3 1656.1 1144.8 1657.5 1145.0 1659.0 1144.8 1660.4 1145.2 1661.9 1146.5 1663.4 1146.8 1664.7 1146.9 1666.1 1147.3 1667.4 1149.4 1668.7 1148.6 1670.0 1150.2 1671.4 1151.1 1672.8 1150.5 1674.3 1151.6 1675.8 1150.6 1677.2 1152.2 1678.7 1151.8 1680.2 1150.5 1681.7 1152.1 1683.2 1150.9 1684.7 1152.1 1686.1 1150.3 1687.6 1150.2 1688.9 1149.9 1690.3 1148.8 1691.7 1148.6 1693.0 1147.4 1694.4 1147.7 1695.9 1146.8 1697.3 1146.6 1698.8 1144.2 1700.3 1146.7 1701.7 1145.6 1703.2 1144.1 1704.7 1145.1 1706.1 1145.0 1707.6 1145.1 1709.0 1143.1 1710.4 1144.4 1711.8 1142.7 1713.3 1144.0 1714.7 1141.8 1716.1 1142.0 1717.6 1141.0 1719.1 1140.4 1720.6 1142.2 1722.1 1142.3 1723.5 1143.3 1724.8 1143.5 1726.2 1143.1 1727.5 1143.1 1728.7 1144.6 1730.0 1145.4 1731.3 1146.1 1732.5 1147.9 1733.8 1148.5 1735.0 1149.0 1736.3 1150.1 1737.5 1150.8 1738.7 1151.9 1739.9 1153.2 1741.1 1154.3 1742.3 1154.0 1743.5 1154.3 1744.7 1157.2 1745.9 1157.2 1747.2 1158.7 1748.4 1157.7 1749.6 1159.5 1750.8 1160.6 1752.1 1160.4 1753.3 1161.9 1754.5 1163.6 1755.8 1164.7 1757.0 1166.0 1758.2 1165.1 1759.5 1165.6 1760.7 1167.8 1761.9 1168.9 1763.2 1169.3 1764.4 1169.1 1765.6 1171.4 1766.9 1172.2 1768.1 1172.9 1769.3 1173.0 1770.6 1174.4 1771.8 1175.6 1773.0 1175.5 1774.3 1175.5 1775.5 1177.9 1776.7 1178.9 1777.8 1179.5 1779.0 1181.1 1780.1 1180.9 1781.2 1182.4 1782.3 1183.2 1783.5 1185.1 1784.7 1187.1 1785.9 1185.9 1787.3 1189.1 1788.7 1189.1 1790.1 1188.7 1791.6 1188.8 1793.0 1190.4 1794.5 1188.5 1796.0 1188.7 1797.5 1187.7 1799.0 1189.5 1800.5 1190.4 1802.0 1189.6 1803.5 1189.4 1805.0 1188.8 1806.5 1189.3 1808.0 1187.6 1809.5 1190.4 1811.0 1188.9 1812.5 1188.3 1814.0 1188.8 1815.5 1188.8 1817.0 1190.7 1818.5 1191.0 1820.0 1188.4 1821.5 1190.9 1823.0 1190.9 1824.5 1189.1 1826.0 1188.0 1827.5 1188.6 1828.9 1188.5 1830.4 1189.3 1831.9 1188.2 1833.3 1186.1 1834.8 1188.3 1836.3 1186.1 1837.8 1188.7 1839.3 1186.2 1840.8 1186.7 1842.3 1186.6 1843.8 1187.0 1845.3 1189.1 1846.8 1188.7 1848.3 1188.6 1849.8 1188.4 1851.3 1186.6 1852.7 1187.9 1854.2 1188.2 1855.7 1188.1 1857.1 1190.1 1858.5 1189.2 1860.0 1189.7 1861.4 1189.9 1862.7 1189.3 1864.1 1192.8 1865.5 1194.2 1866.9 1193.5 1868.3 1192.8 1868.3 1190.9" stroke="#0000ff"/>
<path d="M228.3 1032.0L229.4 1030.6 230.4 1029.2 231.5 1027.9 232.6 1026.5 233.6 1025.2 234.7 1023.8 235.8 1022.4 236.9 1021.1 237.9 1019.7 239.0 1018.3 240.1 1017.0 241.2 1015.6 242.2 1014.2 243.3 1012.9 244.4 1011.5 245.5 1010.2 246.6 1008.8 247.7 1007.4 248.7 1006.1 249.8 1004.7 250.9 1003.3 252.0 1002.0 253.1 1000.6 254.2 999.2 255.3 997.9 256.4 996.5 257.5 995.1 258.6 993.7 259.7 992.4 260.8 991.0 261.8 989.6 262.9 988.3 264.0 986.9 265.1 985.5 266.2 984.1 267.3 982.8 268.4 981.4 269.5 980.0 270.6 978.6 271.7 977.2 272.8 975.9 273.8 974.5 274.9 973.1 276.0 971.7 277.1 970.3 278.2 968.9 279.3 967.6 280.3 966.2 281.4 964.8 282.5 963.4 283.6 962.0 284.7 960.6 285.7 959.2 286.8 957.8 287.9 956.4 288.9 955.0 290.0 953.6 291.1 952.2 292.1 950.8 293.2 949.4 294.2 948.0 295.3 946.6 296.4 945.2 297.4 943.7 298.5 942.3 299.5 940.9 300.5 939.5 301.6 938.1 302.6 936.7 303.6 935.2 304.7 933.8 305.7 932.4 306.7 931.0 307.7 929.5 308.8 928.1 309.8 926.7 310.8 925.2 311.8 923.8 312.8 922.3 313.8 920.9 314.8 919.4 315.8 918.0 316.8 916.5 317.8 915.1 318.7 913.6 319.7 912.2 320.7 910.7 321.6 909.2 322.6 907.8 323.6 906.3 324.5 904.8 325.5 903.4 326.4 901.9 327.3 900.4 328.3 898.9 329.2 897.5 330.1 896.0 331.0 894.5 332.0 893.0 332.9 891.5 333.8 890.0 334.7 888.5 335.5 887.0 336.4 885.5 337.3 884.0 338.2 882.5 339.1 880.9 339.9 879.4 340.8 877.9 341.6 876.4 342.5 874.9 343.3 873.3 344.1 871.8 345.0 870.3 345.8 868.7 346.6 867.2 347.4 865.6 348.2 864.1 349.0 862.5 349.8 861.0 350.6 859.4 351.3 857.8 352.1 856.3 352.9 854.7 353.6 853.1 354.4 851.6 355.1 850.0 355.9 848.4 356.6 846.8 357.4 845.3 358.1 843.7 358.8 842.1 359.5 840.5 360.3 838.9 361.0 837.3 361.7 835.7 362.4 834.1 363.1 832.5 363.8 830.9 364.4 829.3 365.1 827.7 365.8 826.1 366.5 824.5 367.2 822.9 367.8 821.2 368.5 819.6 369.1 818.0 369.8 816.4 370.4 814.8 371.1 813.1 371.7 811.5 372.4 809.9 373.0 808.3 373.6 806.6 374.3 805.0 374.9 803.3 375.5 801.7 376.2 800.1 376.8 798.4 377.4 796.8 378.0 795.1 378.6 793.5 379.2 791.9 379.8 790.2 380.4 788.6 381.0 786.9 381.6 785.3 382.2 783.6 382.8 782.0 383.4 780.3 384.0 778.6 384.5 777.0 385.1 775.3 385.7 773.7 386.3 772.0 386.9 770.4 387.4 768.7 388.0 767.0 388.6 765.4 389.1 763.7 389.7 762.0 390.3 760.4 390.8 758.7 391.4 757.0 392.0 755.4 392.5 753.7 393.1 752.0 393.7 750.4 394.2 748.7 394.8 747.0 395.3 745.4 395.9 743.7 396.4 742.0 397.0 740.4 397.5 738.7 398.1 737.0 398.6 735.4 399.2 733.7 399.8 732.0 400.3 730.4 400.9 728.7 401.4 727.0 402.0 725.3 402.5 723.7 403.1 722.0 403.6 720.3 404.2 718.7 404.7 717.0 405.3 715.3 405.8 713.7 406.4 712.0 406.9 710.3 407.5 708.7 408.0 707.0 408.6 705.3 409.2 703.7 409.7 702.0 410.3 700.3 410.8 698.7 411.4 697.0 412.0 695.4 412.5 693.7 413.1 692.0 413.7 690.4 414.2 688.7 414.8 687.1 415.4 685.4 415.9 683.7 416.5 682.1 417.1 680.4 417.6 678.8 418.2 677.1 418.8 675.5 419.4 673.8 419.9 672.2 420.5 670.5 421.1 668.9 421.7 667.2 422.3 665.6 422.8 663.9 423.4 662.3 424.0 660.6 424.6 659.0 425.2 657.3 425.8 655.7 426.3 654.0 426.9 652.4 427.5 650.7 428.1 649.1 428.7 647.4 429.3 645.8 429.9 644.2 430.5 642.5 431.1 640.9 431.6 639.2 432.2 637.6 432.8 635.9 433.4 634.3 434.0 632.6 434.6 631.0 435.2 629.4 435.8 627.7 436.4 626.1 437.0 624.4 437.6 622.8 438.2 621.1 438.8 619.5 439.4 617.9 440.0 616.2 440.6 614.6 441.2 612.9 441.8 611.3 442.4 609.7 443.0 608.0 443.6 606.4 444.2 604.7 444.8 603.1 445.4 601.5 446.0 599.8 446.6 598.2 447.2 596.5 447.8 594.9 448.4 593.2 449.0 591.6 449.6 590.0 450.2 588.3 450.8 586.7 451.4 585.0 452.0 583.4 452.6 581.8 453.2 580.1 453.8 578.5 454.4 576.8 455.0 575.2 455.6 573.5 456.2 571.9 456.8 570.3 457.4 568.6 458.0 567.0 458.6 565.3 459.2 563.7 459.8 562.0 460.4 560.4 461.0 558.7 461.6 557.1 462.2 555.4 462.8 553.8 463.4 552.2 464.0 550.5 464.6 548.9 465.2 547.2 465.8 545.6 466.4 543.9 466.9 542.3 467.5 540.6 468.1 539.0 468.7 537.3 469.3 535.7 469.9 534.0 470.5 532.4 471.1 530.7 471.7 529.1 472.3 527.4 472.9 525.7 473.5 524.1 474.1 522.4 474.7 520.8 475.2 519.1 475.8 517.5 476.4 515.8 477.0 514.1 477.6 512.5 478.2 510.8 478.8 509.2 479.4 507.5 479.9 505.8 480.5 504.2 481.1 502.5 481.7 500.9 482.3 499.2 482.9 497.5 483.5 495.9 484.0 494.2 484.6 492.6 485.2 490.9 485.8 489.2 486.4 487.6 487.0 485.9 487.6 484.2 488.2 482.6 488.7 480.9 489.3 479.3 489.9 477.6 490.5 475.9 491.1 474.3 491.7 472.6 492.3 471.0 492.9 469.3 493.5 467.6 494.1 466.0 494.7 464.3 495.3 462.7 495.8 461.0 496.4 459.3 497.0 457.7 497.6 456.0 498.2 454.4 498.8 452.7 499.4 451.1 500.0 449.4 500.7 447.8 501.3 446.1 501.9 444.4 502.5 442.8 503.1 441.1 503.7 439.5 504.3 437.8 504.9 436.2 505.5 434.5 506.1 432.9 506.8 431.3 507.4 429.6 508.0 428.0 508.6 426.3 509.2 424.7 509.9 423.0 510.5 421.4 511.1 419.8 511.8 418.1 512.4 416.5 513.0 414.9 513.7 413.2 514.3 411.6 514.9 410.0 515.6 408.3 516.2 406.7 516.9 405.1 517.5 403.4 518.2 401.8 518.8 400.2 519.5 398.6 520.1 396.9 520.8 395.3 521.5 393.7 522.1 392.1 522.8 390.5 523.5 388.9 524.1 387.3 524.8 385.6 525.5 384.0 526.2 382.4 526.9 380.8 527.5 379.2 528.2 377.6 528.9 376.0 529.6 374.4 530.3 372.8 531.0 371.2 531.7 369.7 532.4 368.1 533.1 366.5 533.8 364.9 534.6 363.3 535.3 361.7 536.0 360.1 536.7 358.6 537.4 357.0 538.2 355.4 538.9 353.9 539.7 352.3 540.4 350.7 541.1 349.2 541.9 347.6 542.6 346.0 543.4 344.5 544.1 342.9 544.9 341.4 545.7 339.8 546.4 338.3 547.2 336.7 548.0 335.2 548.8 333.6 549.6 332.1 550.3 330.6 551.1 329.0 551.9 327.5 552.7 326.0 553.5 324.4 554.4 322.9 555.2 321.4 556.0 319.9 556.8 318.3 557.6 316.8 558.5 315.3 559.3 313.8 560.1 312.3 561.0 310.7 561.8 309.2 562.7 307.7 563.5 306.2 564.4 304.7 565.3 303.2 566.1 301.7 567.0 300.2 567.9 298.7 568.8 297.2 569.7 295.7 570.6 294.2 571.5 292.7 572.4 291.2 573.3 289.7 574.2 288.2 575.1 286.7 576.0 285.2 577.0 283.7 577.9 282.2 578.8 280.7 579.8 279.3 580.7 277.8 581.7 276.3 582.7 274.8 583.6 273.3 584.6 271.8 585.6 270.3 586.6 268.9 587.5 267.4 588.5 265.9 589.5 264.4 590.5 262.9 591.6 261.5 592.6 260.0 593.6 258.5 594.6 257.0 595.7 255.5 596.7 254.1 597.8 252.6 598.8 251.1 599.9 249.7 601.0 248.2 602.0 246.8 603.1 245.3 604.2 243.9 605.4 242.5 606.5 241.1 607.6 239.7 608.8 238.3 610.0 237.0 611.2 235.6 612.4 234.3 613.6 233.1 614.9 231.8 616.1 230.6 617.4 229.4 618.7 228.2 620.1 227.1 621.4 226.0 622.8 224.9 624.2 223.9 625.7 222.9 627.1 221.9 628.6 221.0 630.1 220.2 631.6 219.4 633.2 218.6 634.8 217.9 636.4 217.2 638.1 216.6 639.7 216.1 641.4 215.6 643.1 215.2 644.8 214.9 646.4 214.7 648.1 214.6 649.8 214.6 651.5 214.7 653.1 214.9 654.7 215.2 656.4 215.6 658.0 216.1 659.5 216.7 661.1 217.4 662.7 218.1 664.2 218.9 665.7 219.8 667.2 220.7 668.6 221.7 670.1 222.8 671.5 223.8 672.8 224.9 674.2 226.1 675.5 227.2 676.8 228.4 678.1 229.6 679.3 230.9 680.5 232.1 681.7 233.4 682.8 234.7 684.0 236.0 685.1 237.4 686.2 238.8 687.3 240.1 688.3 241.5 689.3 243.0 690.3 244.4 691.3 245.9 692.3 247.3 693.2 248.8 694.2 250.3 695.1 251.8 696.0 253.3 696.8 254.9 697.7 256.4 698.6 258.0 699.4 259.6 700.2 261.1 701.0 262.7 701.8 264.3 702.6 265.9 703.4 267.5 704.2 269.1 704.9 270.8 705.7 272.4 706.4 274.0 707.1 275.6 707.9 277.3 708.6 278.9 709.3 280.5 710.0 282.2 710.7 283.8 711.4 285.4 712.1 287.1 712.8 288.7 713.5 290.3 714.2 292.0 714.9 293.6 715.6 295.2 716.3 296.9 716.9 298.5 717.6 300.1 718.3 301.8 719.0 303.4 719.6 305.0 720.3 306.7 720.9 308.3 721.6 309.9 722.2 311.6 722.9 313.2 723.5 314.8 724.2 316.5 724.8 318.1 725.4 319.7 726.1 321.4 726.7 323.0 727.3 324.6 728.0 326.3 728.6 327.9 729.2 329.5 729.8 331.2 730.5 332.8 731.1 334.4 731.7 336.0 732.3 337.7 732.9 339.3 733.5 340.9 734.1 342.6 734.7 344.2 735.3 345.8 735.9 347.5 736.5 349.1 737.1 350.7 737.7 352.4 738.3 354.0 738.9 355.6 739.5 357.2 740.1 358.9 740.7 360.5 741.3 362.1 741.9 363.8 742.5 365.4 743.1 367.0 743.7 368.7 744.3 370.3 744.9 371.9 745.5 373.6 746.1 375.2 746.6 376.8 747.2 378.5 747.8 380.1 748.4 381.7 749.0 383.4 749.6 385.0 750.2 386.6 750.8 388.3 751.4 389.9 752.0 391.5 752.5 393.2 753.1 394.8 753.7 396.4 754.3 398.1 754.9 399.7 755.5 401.3 756.1 403.0 756.7 404.6 757.3 406.2 757.9 407.9 758.5 409.5 759.1 411.1 759.7 412.8 760.3 414.4 760.9 416.1 761.5 417.7 762.1 419.3 762.8 421.0 763.4 422.6 764.0 424.3 764.6 425.9 765.2 427.5 765.8 429.2 766.5 430.8 767.1 432.5 767.7 434.1 768.3 435.7 769.0 437.4 769.6 439.0 770.2 440.7 770.9 442.3 771.5 444.0 772.2 445.6 772.8 447.2 773.4 448.9 774.1 450.5 774.8 452.2 775.4 453.8 776.1 455.5 776.7 457.1 777.4 458.8 778.1 460.4 778.7 462.1 779.4 463.7 780.1 465.4 780.8 467.0 781.5 468.7 782.2 470.3 782.9 472.0 783.6 473.6 784.3 475.3 785.0 476.9 785.7 478.6 786.4 480.2 787.2 481.9 787.9 483.5 788.6 485.1 789.4 486.7 790.1 488.4 790.9 490.0 791.7 491.6 792.5 493.2 793.3 494.8 794.1 496.4 794.9 498.0 795.7 499.5 796.5 501.1 797.4 502.7 798.2 504.2 799.1 505.7 800.0 507.3 800.9 508.8 801.8 510.3 802.7 511.8 803.6 513.2 804.6 514.7 805.6 516.1 806.5 517.6 807.5 519.0 808.5 520.4 809.6 521.8 810.6 523.1 811.7 524.5 812.7 525.8 813.8 527.2 814.9 528.5 816.1 529.7 817.2 531.0 818.4 532.2 819.6 533.5 820.8 534.7 822.0 535.8 823.2 537.0 824.5 538.1 825.8 539.2 827.1 540.3 828.4 541.4 829.8 542.4 831.2 543.4 832.6 544.4 834.0 545.4 835.4 546.3 836.9 547.2 838.4 548.1 839.9 549.0 841.5 549.8 843.0 550.6 844.6 551.4 846.2 552.1 847.8 552.8 849.5 553.5 851.1 554.1 852.8 554.7 854.5 555.3 856.2 555.8 857.9 556.3 859.6 556.7 861.3 557.1 863.1 557.5 864.8 557.8 866.6 558.1 868.3 558.3 870.1 558.5 871.8 558.6 873.6 558.7 875.3 558.8 877.1 558.7 878.8 558.7 880.6 558.6 882.4 558.5 884.1 558.4 885.9 558.3 887.6 558.2 889.4 558.0 891.1 557.9 892.9 557.8 894.6 557.7 896.4 557.6 898.1 557.6 899.9 557.5 901.6 557.5 903.4 557.4 905.2 557.4 906.9 557.3 908.7 557.3 910.4 557.2 912.2 557.2 913.9 557.2 915.7 557.1 917.4 557.1 919.2 557.1 921.0 557.0 922.7 557.0 924.5 556.9 926.2 556.8 928.0 556.7 929.7 556.7 931.4 556.6 933.2 556.4 934.9 556.3 936.7 556.2 938.4 556.0 940.2 555.9 941.9 555.7 943.6 555.5 945.4 555.3 947.1 555.1 948.9 554.9 950.6 554.7 952.3 554.5 954.1 554.3 955.8 554.1 957.5 553.9 959.3 553.7 961.0 553.4 962.8 553.2 964.5 553.0 966.2 552.8 968.0 552.6 969.7 552.4 971.5 552.2 973.2 552.0 975.0 551.8 976.7 551.6 978.5 551.5 980.2 551.3 982.0 551.2 983.7 551.0 985.5 550.9 987.3 550.8 989.0 550.7 990.8 550.6 992.5 550.6 994.3 550.6 996.0 550.5 997.8 550.5 999.5 550.6 1001.3 550.6 1003.0 550.7 1004.7 550.8 1006.5 550.9 1008.2 551.1 1009.9 551.2 1011.7 551.4 1013.4 551.7 1015.1 552.0 1016.8 552.3 1018.5 552.6 1020.2 553.0 1021.9 553.4 1023.6 553.8 1025.3 554.3 1027.0 554.8 1028.7 555.3 1030.3 555.9 1032.0 556.5 1033.6 557.1 1035.3 557.7 1036.9 558.4 1038.6 559.1 1040.2 559.8 1041.8 560.6 1043.4 561.4 1045.0 562.2 1046.6 563.0 1048.2 563.8 1049.8 564.6 1051.4 565.4 1053.0 566.2 1054.6 567.0 1056.2 567.8 1057.8 568.6 1059.4 569.4 1061.0 570.2 1062.6 570.9 1064.2 571.6 1065.8 572.3 1067.5 573.0 1069.1 573.6 1070.7 574.2 1072.4 574.7 1074.0 575.2 1075.7 575.7 1077.3 576.1 1079.0 576.4 1080.7 576.7 1082.4 576.9 1084.1 577.1 1085.8 577.3 1087.5 577.4 1089.3 577.4 1091.0 577.4 1092.8 577.4 1094.5 577.4 1096.3 577.3 1098.0 577.2 1099.8 577.1 1101.6 577.0 1103.3 576.8 1105.1 576.7 1106.8 576.5 1108.6 576.3 1110.4 576.2 1112.1 576.0 1113.9 575.9 1115.7 575.7 1117.4 575.6 1119.2 575.5 1120.9 575.5 1122.6 575.4 1124.4 575.5 1126.1 575.5 1127.8 575.7 1129.5 575.9 1131.2 576.1 1132.9 576.4 1134.6 576.8 1136.3 577.1 1138.0 577.6 1139.6 578.1 1141.3 578.6 1142.9 579.2 1144.6 579.8 1146.2 580.4 1147.8 581.1 1149.5 581.8 1151.1 582.5 1152.7 583.2 1154.3 583.9 1155.9 584.7 1157.5 585.4 1159.2 586.1 1160.8 586.9 1162.4 587.6 1164.0 588.3 1165.7 589.0 1167.3 589.6 1169.0 590.3 1170.6 590.9 1172.3 591.5 1173.9 592.1 1175.6 592.7 1177.3 593.2 1179.0 593.8 1180.6 594.3 1182.3 594.8 1184.0 595.2 1185.7 595.6 1187.4 596.1 1189.1 596.4 1190.8 596.8 1192.5 597.1 1194.2 597.4 1195.9 597.7 1197.7 598.0 1199.4 598.2 1201.1 598.4 1202.9 598.6 1204.6 598.7 1206.3 598.8 1208.1 598.9 1209.8 598.9 1211.5 599.0 1213.3 599.0 1215.0 599.0 1216.8 598.9 1218.6 598.9 1220.3 598.8 1222.1 598.8 1223.8 598.7 1225.6 598.6 1227.3 598.5 1229.1 598.4 1230.9 598.4 1232.6 598.3 1234.4 598.2 1236.2 598.1 1237.9 598.1 1239.7 598.0 1241.5 598.0 1243.2 598.0 1245.0 598.0 1246.8 598.0 1248.5 598.0 1250.3 598.1 1252.0 598.2 1253.8 598.3 1255.6 598.4 1257.3 598.6 1259.1 598.7 1260.8 599.0 1262.6 599.2 1264.3 599.4 1266.0 599.7 1267.7 600.1 1269.5 600.4 1271.2 600.8 1272.9 601.2 1274.6 601.6 1276.2 602.1 1277.9 602.5 1279.6 603.1 1281.2 603.6 1282.9 604.2 1284.5 604.8 1286.1 605.4 1287.7 606.1 1289.3 606.8 1290.9 607.6 1292.5 608.3 1294.0 609.1 1295.6 610.0 1297.1 610.8 1298.7 611.6 1300.2 612.5 1301.7 613.4 1303.2 614.3 1304.8 615.2 1306.3 616.1 1307.8 616.9 1309.3 617.8 1310.9 618.7 1312.4 619.6 1313.9 620.4 1315.5 621.3 1317.0 622.2 1318.6 623.0 1320.1 623.8 1321.7 624.7 1323.2 625.5 1324.8 626.3 1326.3 627.1 1327.9 628.0 1329.4 628.8 1331.0 629.6 1332.6 630.4 1334.1 631.2 1335.7 632.0 1337.2 632.8 1338.8 633.6 1340.4 634.4 1341.9 635.2 1343.5 636.0 1345.1 636.8 1346.6 637.6 1348.2 638.4 1349.7 639.2 1351.3 640.0 1352.8 640.8 1354.4 641.6 1355.9 642.4 1357.5 643.2 1359.0 644.0 1360.6 644.8 1362.1 645.6 1363.6 646.5 1365.2 647.3 1366.7 648.1 1368.2 649.0 1369.7 649.8 1371.2 650.6 1372.7 651.5 1374.2 652.4 1375.7 653.2 1377.2 654.1 1378.7 655.0 1380.2 655.9 1381.7 656.8 1383.1 657.7 1384.6 658.6 1386.1 659.6 1387.5 660.5 1388.9 661.5 1390.4 662.4 1391.8 663.4 1393.2 664.4 1394.6 665.4 1396.0 666.4 1397.4 667.4 1398.8 668.5 1400.2 669.5 1401.6 670.6 1402.9 671.6 1404.3 672.7 1405.6 673.8 1407.0 674.9 1408.3 676.0 1409.6 677.2 1410.9 678.3 1412.2 679.5 1413.5 680.6 1414.8 681.8 1416.1 683.0 1417.4 684.2 1418.7 685.4 1419.9 686.6 1421.2 687.8 1422.5 689.0 1423.7 690.2 1425.0 691.5 1426.2 692.7 1427.4 694.0 1428.7 695.2 1429.9 696.5 1431.1 697.8 1432.4 699.0 1433.6 700.3 1434.8 701.6 1436.0 702.9 1437.2 704.2 1438.4 705.5 1439.6 706.8 1440.8 708.1 1442.0 709.4 1443.2 710.7 1444.3 712.0 1445.5 713.3 1446.7 714.7 1447.9 716.0 1449.1 717.3 1450.2 718.6 1451.4 719.9 1452.6 721.3 1453.8 722.6 1454.9 723.9 1456.1 725.2 1457.3 726.6 1458.5 727.9 1459.6 729.2 1460.8 730.5 1461.9 731.9 1463.1 733.2 1464.3 734.5 1465.4 735.8 1466.6 737.2 1467.7 738.5 1468.9 739.8 1470.1 741.1 1471.2 742.5 1472.4 743.8 1473.5 745.1 1474.7 746.5 1475.8 747.8 1477.0 749.1 1478.1 750.4 1479.2 751.8 1480.4 753.1 1481.5 754.4 1482.7 755.8 1483.8 757.1 1484.9 758.5 1486.1 759.8 1487.2 761.1 1488.3 762.5 1489.4 763.8 1490.6 765.2 1491.7 766.5 1492.8 767.8 1493.9 769.2 1495.0 770.5 1496.1 771.9 1497.2 773.2 1498.3 774.6 1499.5 776.0 1500.6 777.3 1501.7 778.7 1502.8 780.0 1503.8 781.4 1504.9 782.7 1506.0 784.1 1507.1 785.5 1508.2 786.8 1509.3 788.2 1510.4 789.6 1511.4 791.0 1512.5 792.3 1513.6 793.7 1514.7 795.1 1515.7 796.5 1516.8 797.9 1517.8 799.3 1518.9 800.6 1520.0 802.0 1521.0 803.4 1522.1 804.8 1523.1 806.2 1524.1 807.6 1525.2 809.0 1526.2 810.4 1527.2 811.8 1528.3 813.2 1529.3 814.7 1530.3 816.1 1531.3 817.5 1532.4 818.9 1533.4 820.3 1534.4 821.8 1535.4 823.2 1536.4 824.6 1537.4 826.1 1538.4 827.5 1539.4 828.9 1540.4 830.4 1541.4 831.8 1542.3 833.3 1543.3 834.7 1544.3 836.2 1545.3 837.7 1546.2 839.1 1547.2 840.6 1548.2 842.0 1549.1 843.5 1550.1 845.0 1551.0 846.5 1552.0 847.9 1552.9 849.4 1553.9 850.9 1554.8 852.4 1555.8 853.8 1556.7 855.3 1557.7 856.8 1558.6 858.3 1559.6 859.8 1560.5 861.2 1561.5 862.7 1562.4 864.2 1563.4 865.7 1564.3 867.2 1565.3 868.7 1566.2 870.1 1567.1 871.6 1568.1 873.1 1569.0 874.6 1570.0 876.1 1570.9 877.5 1571.9 879.0 1572.8 880.5 1573.8 882.0 1574.7 883.5 1575.7 884.9 1576.7 886.4 1577.6 887.9 1578.6 889.3 1579.6 890.8 1580.5 892.3 1581.5 893.7 1582.5 895.2 1583.4 896.7 1584.4 898.1 1585.4 899.6 1586.4 901.0 1587.4 902.5 1588.4 903.9 1589.4 905.4 1590.4 906.8 1591.4 908.2 1592.4 909.7 1593.4 911.1 1594.4 912.5 1595.5 913.9 1596.5 915.3 1597.5 916.8 1598.6 918.2 1599.6 919.6 1600.7 921.0 1601.7 922.4 1602.8 923.8 1603.8 925.2 1604.9 926.5 1606.0 927.9 1607.1 929.3 1608.1 930.7 1609.2 932.1 1610.3 933.4 1611.4 934.8 1612.5 936.2 1613.6 937.6 1614.7 938.9 1615.8 940.3 1616.9 941.6 1618.0 943.0 1619.1 944.4 1620.2 945.7 1621.3 947.1 1622.4 948.4 1623.5 949.8 1624.6 951.1 1625.8 952.5 1626.9 953.8 1628.0 955.1 1629.1 956.5 1630.3 957.8 1631.4 959.2 1632.5 960.5 1633.6 961.9 1634.8 963.2 1635.9 964.5 1637.0 965.9 1638.1 967.2 1639.3 968.6 1640.4 969.9 1641.5 971.2 1642.7 972.6 1643.8 973.9 1644.9 975.2 1646.1 976.6 1647.2 977.9 1648.3 979.3 1649.4 980.6 1650.6 982.0 1651.7 983.3 1652.8 984.6 1653.9 986.0 1655.1 987.3 1656.2 988.7 1657.3 990.0 1658.4 991.4 1659.6 992.7 1660.7 994.0 1661.8 995.4 1662.9 996.7 1664.1 998.1 1665.2 999.4 1666.3 1000.8 1667.4 1002.1 1668.6 1003.5 1669.7 1004.8 1670.8 1006.1 1671.9 1007.5 1673.1 1008.8 1674.2 1010.2 1675.3 1011.5 1676.4 1012.9 1677.6 1014.2 1678.7 1015.5 1679.8 1016.9 1681.0 1018.2 1682.1 1019.6 1683.2 1020.9 1684.3 1022.3 1685.5 1023.6 1686.6 1024.9 1687.7 1026.3 1688.9 1027.6 1690.0 1028.9 1691.1 1030.3 1692.3 1031.6 1693.4 1033.0 1694.5 1034.3 1695.7 1035.6 1696.8 1037.0 1697.9 1038.3 1699.1 1039.6 1700.2 1041.0 1701.3 1042.3 1702.5 1043.6 1703.6 1045.0 1704.8 1046.3 1705.9 1047.6 1707.0 1049.0 1708.2 1050.3 1709.3 1051.6 1710.5 1052.9 1711.6 1054.3 1712.8 1055.6 1713.9 1056.9 1715.1 1058.2 1716.2 1059.5 1717.4 1060.9 1718.5 1062.2 1719.7 1063.5 1720.8 1064.8 1722.0 1066.1 1723.2 1067.4 1724.3 1068.8 1725.5 1070.1 1726.6 1071.4 1727.8 1072.7 1729.0 1074.0 1730.1 1075.3 1731.3 1076.6 1732.5 1077.9 1733.6 1079.2 1734.8 1080.5 1736.0 1081.8 1737.2 1083.1 1738.4 1084.4 1739.5 1085.7 1740.7 1087.0 1741.9 1088.3 1743.1 1089.6 1744.3 1090.9 1745.5 1092.2 1746.7 1093.4 1747.8 1094.7 1749.0 1096.0 1750.2 1097.3 1751.4 1098.6 1752.6 1099.8 1753.8 1101.1 1755.0 1102.4 1756.3 1103.7 1757.5 1104.9 1758.7 1106.2 1759.9 1107.5 1761.1 1108.7 1762.3 1110.0 1763.5 1111.3 1764.8 1112.5 1766.0 1113.8 1767.2 1115.0 1768.4 1116.3 1769.7 1117.5 1770.9 1118.8 1772.1 1120.0 1773.4 1121.2 1774.6 1122.5 1775.9 1123.7 1777.1 1124.9 1778.4 1126.2 1779.6 1127.4 1780.9 1128.6 1782.2 1129.8 1783.4 1131.0 1784.7 1132.2 1786.0 1133.4 1787.2 1134.6 1788.5 1135.8 1789.8 1137.0 1791.1 1138.2 1792.4 1139.4 1793.7 1140.5 1795.0 1141.7 1796.3 1142.9 1797.6 1144.0 1798.9 1145.2 1800.2 1146.3 1801.6 1147.5 1802.9 1148.6 1804.2 1149.8 1805.6 1150.9 1806.9 1152.0 1808.2 1153.1 1809.6 1154.2 1811.0 1155.3 1812.3 1156.4 1813.7 1157.5 1815.0 1158.6 1816.4 1159.7 1817.8 1160.7 1819.2 1161.8 1820.6 1162.9 1822.0 1163.9 1823.4 1165.0 1824.8 1166.0 1826.2 1167.0 1827.6 1168.0 1829.1 1169.0 1830.5 1170.0 1831.9 1171.0 1833.4 1172.0 1834.8 1173.0 1836.3 1174.0 1837.7 1174.9 1839.2 1175.9 1840.7 1176.8 1842.2 1177.8 1843.7 1178.7 1845.2 1179.6 1846.7 1180.5 1848.2 1181.4 1849.7 1182.3 1851.2 1183.2 1852.7 1184.1 1854.3 1185.0 1855.8 1185.8 1857.4 1186.7 1858.9 1187.5 1860.5 1188.3 1862.1 1189.1 1863.7 1189.9 1865.3 1190.7 1866.8 1191.5 1868.5 1192.3" stroke="#ff0000"/>
<path d="M226.7 989.0L227.9 987.6 229.2 986.3 230.4 985.0 231.7 983.7 232.9 982.4 234.1 981.1 235.4 979.8 236.6 978.4 237.8 977.1 239.0 975.8 240.2 974.4 241.4 973.1 242.6 971.8 243.8 970.4 245.0 969.1 246.2 967.8 247.4 966.4 248.6 965.1 249.7 963.7 250.9 962.3 252.1 961.0 253.2 959.6 254.4 958.3 255.5 956.9 256.6 955.5 257.8 954.2 258.9 952.8 260.0 951.4 261.2 950.0 262.3 948.7 263.4 947.3 264.5 945.9 265.6 944.5 266.7 943.1 267.8 941.7 268.9 940.3 270.0 939.0 271.0 937.6 272.1 936.2 273.2 934.8 274.2 933.3 275.3 931.9 276.4 930.5 277.4 929.1 278.5 927.7 279.5 926.3 280.6 924.9 281.6 923.5 282.6 922.0 283.6 920.6 284.7 919.2 285.7 917.8 286.7 916.3 287.7 914.9 288.7 913.5 289.7 912.0 290.7 910.6 291.7 909.1 292.7 907.7 293.7 906.2 294.7 904.8 295.6 903.3 296.6 901.9 297.6 900.4 298.6 899.0 299.5 897.5 300.5 896.1 301.4 894.6 302.4 893.1 303.3 891.7 304.3 890.2 305.2 888.7 306.1 887.3 307.1 885.8 308.0 884.3 308.9 882.8 309.8 881.4 310.7 879.9 311.7 878.4 312.6 876.9 313.5 875.4 314.4 873.9 315.3 872.4 316.2 870.9 317.1 869.4 317.9 867.9 318.8 866.4 319.7 864.9 320.6 863.4 321.4 861.9 322.3 860.4 323.2 858.9 324.0 857.4 324.9 855.9 325.8 854.4 326.6 852.9 327.4 851.4 328.3 849.8 329.1 848.3 330.0 846.8 330.8 845.3 331.6 843.8 332.5 842.2 333.3 840.7 334.1 839.2 334.9 837.6 335.7 836.1 336.6 834.6 337.4 833.0 338.2 831.5 339.0 830.0 339.8 828.4 340.6 826.9 341.4 825.3 342.1 823.8 342.9 822.2 343.7 820.7 344.5 819.1 345.3 817.6 346.1 816.0 346.8 814.5 347.6 812.9 348.4 811.4 349.1 809.8 349.9 808.2 350.6 806.7 351.4 805.1 352.1 803.5 352.9 802.0 353.6 800.4 354.4 798.8 355.1 797.3 355.9 795.7 356.6 794.1 357.3 792.5 358.1 791.0 358.8 789.4 359.5 787.8 360.2 786.2 361.0 784.6 361.7 783.1 362.4 781.5 363.1 779.9 363.8 778.3 364.5 776.7 365.2 775.1 365.9 773.5 366.6 771.9 367.3 770.3 368.0 768.8 368.7 767.2 369.4 765.6 370.1 764.0 370.8 762.4 371.5 760.8 372.1 759.2 372.8 757.6 373.5 755.9 374.2 754.3 374.8 752.7 375.5 751.1 376.2 749.5 376.9 747.9 377.5 746.3 378.2 744.7 378.8 743.1 379.5 741.5 380.2 739.8 380.8 738.2 381.5 736.6 382.1 735.0 382.8 733.4 383.4 731.8 384.0 730.1 384.7 728.5 385.3 726.9 386.0 725.3 386.6 723.6 387.2 722.0 387.9 720.4 388.5 718.8 389.1 717.1 389.8 715.5 390.4 713.9 391.0 712.2 391.6 710.6 392.2 709.0 392.9 707.3 393.5 705.7 394.1 704.1 394.7 702.4 395.3 700.8 395.9 699.2 396.5 697.5 397.2 695.9 397.8 694.2 398.4 692.6 399.0 691.0 399.6 689.3 400.2 687.7 400.8 686.0 401.4 684.4 402.0 682.7 402.6 681.1 403.2 679.4 403.7 677.8 404.3 676.1 404.9 674.5 405.5 672.8 406.1 671.2 406.7 669.5 407.3 667.9 407.9 666.2 408.4 664.6 409.0 662.9 409.6 661.3 410.2 659.6 410.8 658.0 411.3 656.3 411.9 654.7 412.5 653.0 413.1 651.3 413.6 649.7 414.2 648.0 414.8 646.4 415.3 644.7 415.9 643.0 416.5 641.4 417.1 639.7 417.6 638.1 418.2 636.4 418.8 634.7 419.3 633.1 419.9 631.4 420.4 629.8 421.0 628.1 421.6 626.4 422.1 624.8 422.7 623.1 423.2 621.4 423.8 619.8 424.4 618.1 424.9 616.4 425.5 614.8 426.0 613.1 426.6 611.4 427.1 609.8 427.7 608.1 428.2 606.4 428.8 604.8 429.4 603.1 429.9 601.4 430.5 599.8 431.0 598.1 431.6 596.4 432.1 594.7 432.7 593.1 433.2 591.4 433.8 589.7 434.3 588.1 434.9 586.4 435.4 584.7 436.0 583.1 436.5 581.4 437.1 579.7 437.6 578.0 438.2 576.4 438.7 574.7 439.3 573.0 439.8 571.4 440.4 569.7 440.9 568.0 441.4 566.3 442.0 564.7 442.5 563.0 443.1 561.3 443.6 559.7 444.2 558.0 444.7 556.3 445.3 554.7 445.8 553.0 446.4 551.3 446.9 549.6 447.5 548.0 448.0 546.3 448.6 544.6 449.1 543.0 449.7 541.3 450.2 539.6 450.8 537.9 451.3 536.3 451.9 534.6 452.4 532.9 453.0 531.3 453.5 529.6 454.1 527.9 454.6 526.3 455.2 524.6 455.7 522.9 456.3 521.2 456.8 519.6 457.4 517.9 458.0 516.2 458.5 514.6 459.1 512.9 459.6 511.2 460.2 509.6 460.7 507.9 461.3 506.2 461.9 504.6 462.4 502.9 463.0 501.3 463.5 499.6 464.1 497.9 464.7 496.3 465.2 494.6 465.8 492.9 466.4 491.3 466.9 489.6 467.5 487.9 468.1 486.3 468.6 484.6 469.2 483.0 469.8 481.3 470.3 479.6 470.9 478.0 471.5 476.3 472.1 474.7 472.6 473.0 473.2 471.4 473.8 469.7 474.4 468.0 475.0 466.4 475.5 464.7 476.1 463.1 476.7 461.4 477.3 459.8 477.9 458.1 478.5 456.5 479.1 454.8 479.6 453.2 480.2 451.5 480.8 449.9 481.4 448.2 482.0 446.6 482.6 444.9 483.2 443.3 483.8 441.6 484.4 440.0 485.0 438.3 485.6 436.7 486.2 435.1 486.8 433.4 487.4 431.8 488.0 430.1 488.7 428.5 489.3 426.9 489.9 425.2 490.5 423.6 491.1 421.9 491.7 420.3 492.4 418.7 493.0 417.0 493.6 415.4 494.2 413.8 494.8 412.1 495.5 410.5 496.1 408.9 496.7 407.2 497.4 405.6 498.0 404.0 498.7 402.4 499.3 400.7 499.9 399.1 500.6 397.5 501.2 395.9 501.9 394.3 502.5 392.6 503.2 391.0 503.8 389.4 504.5 387.8 505.1 386.2 505.8 384.5 506.5 382.9 507.1 381.3 507.8 379.7 508.5 378.1 509.1 376.5 509.8 374.9 510.5 373.3 511.1 371.7 511.8 370.1 512.5 368.5 513.2 366.8 513.9 365.2 514.6 363.6 515.3 362.0 515.9 360.4 516.6 358.8 517.3 357.3 518.0 355.7 518.7 354.1 519.4 352.5 520.2 350.9 520.9 349.3 521.6 347.7 522.3 346.1 523.0 344.5 523.7 342.9 524.4 341.4 525.2 339.8 525.9 338.2 526.6 336.6 527.4 335.0 528.1 333.5 528.8 331.9 529.6 330.3 530.3 328.7 531.1 327.2 531.8 325.6 532.5 324.0 533.3 322.4 534.0 320.9 534.8 319.3 535.6 317.7 536.3 316.2 537.1 314.6 537.8 313.0 538.6 311.5 539.4 309.9 540.2 308.3 540.9 306.8 541.7 305.2 542.5 303.7 543.3 302.1 544.0 300.6 544.8 299.0 545.6 297.4 546.4 295.9 547.2 294.3 548.0 292.8 548.8 291.2 549.6 289.7 550.4 288.1 551.2 286.6 552.0 285.0 552.8 283.5 553.6 281.9 554.4 280.4 555.2 278.8 556.0 277.3 556.8 275.7 557.6 274.2 558.5 272.6 559.3 271.1 560.1 269.5 560.9 268.0 561.8 266.5 562.6 264.9 563.4 263.4 564.2 261.8 565.1 260.3 565.9 258.7 566.8 257.2 567.6 255.7 568.4 254.1 569.3 252.6 570.1 251.0 571.0 249.5 571.8 248.0 572.7 246.4 573.5 244.9 574.4 243.4 575.2 241.8 576.1 240.3 577.0 238.8 577.8 237.2 578.7 235.7 579.6 234.2 580.5 232.7 581.4 231.2 582.3 229.6 583.2 228.1 584.1 226.6 585.0 225.1 585.9 223.7 586.9 222.2 587.8 220.7 588.8 219.2 589.7 217.7 590.7 216.3 591.7 214.8 592.6 213.4 593.6 211.9 594.6 210.5 595.7 209.1 596.7 207.7 597.7 206.3 598.8 204.9 599.8 203.5 600.9 202.1 602.0 200.7 603.1 199.4 604.2 198.0 605.3 196.7 606.5 195.4 607.6 194.0 608.8 192.7 610.0 191.4 611.2 190.2 612.4 188.9 613.6 187.7 614.9 186.5 616.2 185.3 617.5 184.1 618.8 183.0 620.2 181.9 621.6 180.8 623.0 179.8 624.4 178.8 625.9 177.8 627.4 176.9 629.0 176.0 630.6 175.2 632.2 174.4 633.8 173.7 635.5 173.1 637.3 172.5 639.0 171.9 640.8 171.5 642.5 171.0 644.3 170.7 646.1 170.5 647.8 170.3 649.6 170.2 651.3 170.2 653.0 170.3 654.7 170.5 656.4 170.8 658.0 171.2 659.6 171.7 661.1 172.2 662.7 172.8 664.2 173.6 665.6 174.3 667.1 175.2 668.5 176.1 669.9 177.1 671.2 178.1 672.6 179.2 673.9 180.3 675.2 181.5 676.5 182.7 677.7 184.0 678.9 185.3 680.2 186.6 681.3 188.0 682.5 189.3 683.7 190.7 684.8 192.1 685.9 193.6 687.0 195.0 688.1 196.4 689.1 197.8 690.2 199.3 691.2 200.7 692.2 202.2 693.2 203.7 694.2 205.1 695.1 206.6 696.1 208.1 697.0 209.6 697.9 211.1 698.8 212.6 699.7 214.1 700.6 215.6 701.5 217.1 702.3 218.6 703.2 220.2 704.0 221.7 704.8 223.2 705.6 224.8 706.4 226.3 707.2 227.9 708.0 229.5 708.7 231.0 709.5 232.6 710.2 234.2 711.0 235.8 711.7 237.3 712.4 238.9 713.1 240.5 713.8 242.1 714.5 243.7 715.2 245.3 715.8 246.9 716.5 248.5 717.2 250.1 717.8 251.8 718.5 253.4 719.1 255.0 719.7 256.6 720.3 258.3 721.0 259.9 721.6 261.5 722.2 263.2 722.8 264.8 723.4 266.4 724.0 268.1 724.6 269.7 725.2 271.4 725.8 273.0 726.4 274.7 726.9 276.3 727.5 278.0 728.1 279.6 728.7 281.3 729.3 282.9 729.8 284.6 730.4 286.2 731.0 287.9 731.5 289.6 732.1 291.2 732.7 292.9 733.3 294.5 733.8 296.2 734.4 297.9 735.0 299.5 735.6 301.2 736.1 302.8 736.7 304.5 737.3 306.1 737.9 307.8 738.5 309.5 739.0 311.1 739.6 312.8 740.2 314.4 740.8 316.1 741.4 317.8 742.0 319.4 742.6 321.1 743.1 322.7 743.7 324.4 744.3 326.0 744.9 327.7 745.5 329.4 746.1 331.0 746.7 332.7 747.3 334.3 747.9 336.0 748.5 337.6 749.0 339.3 749.6 340.9 750.2 342.6 750.8 344.2 751.4 345.9 752.0 347.5 752.6 349.2 753.2 350.8 753.8 352.5 754.4 354.1 755.0 355.8 755.6 357.4 756.2 359.1 756.8 360.7 757.4 362.4 758.0 364.0 758.7 365.7 759.3 367.3 759.9 368.9 760.5 370.6 761.1 372.2 761.7 373.8 762.3 375.5 762.9 377.1 763.5 378.8 764.1 380.4 764.8 382.0 765.4 383.6 766.0 385.3 766.6 386.9 767.2 388.5 767.8 390.2 768.4 391.8 769.1 393.4 769.7 395.0 770.3 396.6 770.9 398.3 771.6 399.9 772.2 401.5 772.8 403.1 773.5 404.7 774.1 406.3 774.7 407.9 775.4 409.6 776.0 411.2 776.7 412.8 777.3 414.4 778.0 416.0 778.7 417.6 779.4 419.2 780.0 420.8 780.7 422.4 781.4 424.0 782.1 425.6 782.8 427.1 783.5 428.7 784.2 430.3 785.0 431.9 785.7 433.5 786.4 435.1 787.2 436.6 787.9 438.2 788.7 439.8 789.4 441.4 790.2 442.9 791.0 444.5 791.8 446.1 792.6 447.6 793.4 449.2 794.3 450.8 795.1 452.3 795.9 453.9 796.8 455.4 797.7 457.0 798.5 458.5 799.4 460.1 800.3 461.6 801.2 463.1 802.2 464.7 803.1 466.2 804.1 467.7 805.0 469.2 806.0 470.8 807.0 472.3 808.0 473.7 809.0 475.2 810.0 476.7 811.1 478.1 812.1 479.6 813.2 481.0 814.3 482.4 815.4 483.8 816.5 485.2 817.7 486.5 818.8 487.8 820.0 489.2 821.2 490.4 822.4 491.7 823.6 493.0 824.9 494.2 826.1 495.4 827.4 496.6 828.7 497.7 830.0 498.8 831.3 499.9 832.7 501.0 834.1 502.0 835.5 503.0 836.9 504.0 838.3 504.9 839.8 505.8 841.2 506.7 842.7 507.5 844.3 508.3 845.8 509.1 847.4 509.8 848.9 510.5 850.5 511.1 852.2 511.7 853.8 512.3 855.5 512.9 857.1 513.4 858.8 513.8 860.5 514.2 862.2 514.6 863.9 515.0 865.7 515.3 867.4 515.6 869.1 515.9 870.9 516.1 872.6 516.3 874.4 516.4 876.1 516.5 877.9 516.6 879.6 516.7 881.4 516.7 883.1 516.7 884.9 516.7 886.6 516.6 888.4 516.5 890.1 516.4 891.9 516.3 893.6 516.1 895.3 515.9 897.1 515.7 898.8 515.5 900.5 515.3 902.3 515.0 904.0 514.7 905.7 514.5 907.5 514.2 909.2 513.9 910.9 513.6 912.6 513.3 914.4 513.0 916.1 512.7 917.8 512.4 919.6 512.1 921.3 511.8 923.0 511.5 924.7 511.2 926.5 510.9 928.2 510.6 929.9 510.3 931.7 510.1 933.4 509.8 935.2 509.6 936.9 509.4 938.6 509.2 940.4 509.0 942.1 508.8 943.9 508.7 945.6 508.5 947.4 508.4 949.1 508.2 950.9 508.1 952.6 508.0 954.4 507.9 956.1 507.9 957.9 507.8 959.6 507.7 961.4 507.7 963.1 507.7 964.9 507.7 966.6 507.6 968.4 507.6 970.1 507.7 971.9 507.7 973.6 507.7 975.4 507.8 977.1 507.8 978.9 507.9 980.6 508.0 982.4 508.0 984.1 508.1 985.9 508.2 987.6 508.4 989.4 508.5 991.1 508.6 992.9 508.7 994.6 508.9 996.4 509.0 998.1 509.2 999.8 509.4 1001.6 509.6 1003.3 509.8 1005.0 510.0 1006.8 510.2 1008.5 510.4 1010.3 510.6 1012.0 510.8 1013.7 511.1 1015.4 511.3 1017.2 511.5 1018.9 511.8 1020.6 512.1 1022.4 512.3 1024.1 512.6 1025.8 512.9 1027.5 513.2 1029.2 513.5 1031.0 513.8 1032.7 514.1 1034.4 514.4 1036.1 514.7 1037.8 515.0 1039.6 515.3 1041.3 515.7 1043.0 516.0 1044.7 516.3 1046.4 516.7 1048.1 517.0 1049.9 517.4 1051.6 517.7 1053.3 518.1 1055.0 518.4 1056.7 518.8 1058.4 519.2 1060.1 519.6 1061.8 519.9 1063.5 520.3 1065.2 520.7 1067.0 521.1 1068.7 521.5 1070.4 521.9 1072.1 522.3 1073.8 522.6 1075.5 523.0 1077.2 523.4 1078.9 523.8 1080.6 524.2 1082.3 524.7 1084.0 525.1 1085.7 525.5 1087.4 525.9 1089.1 526.3 1090.8 526.7 1092.5 527.1 1094.2 527.5 1096.0 527.9 1097.7 528.3 1099.4 528.8 1101.1 529.2 1102.8 529.6 1104.5 530.0 1106.2 530.4 1107.9 530.8 1109.6 531.2 1111.3 531.6 1113.0 532.0 1114.7 532.4 1116.4 532.9 1118.1 533.3 1119.8 533.7 1121.5 534.1 1123.2 534.5 1124.9 534.9 1126.6 535.3 1128.3 535.6 1130.0 536.0 1131.8 536.4 1133.5 536.8 1135.2 537.2 1136.9 537.6 1138.6 538.0 1140.3 538.3 1142.0 538.7 1143.7 539.1 1145.4 539.4 1147.1 539.8 1148.8 540.1 1150.6 540.5 1152.3 540.8 1154.0 541.2 1155.7 541.5 1157.4 541.9 1159.1 542.2 1160.8 542.6 1162.6 542.9 1164.3 543.2 1166.0 543.6 1167.7 543.9 1169.4 544.2 1171.1 544.5 1172.9 544.8 1174.6 545.2 1176.3 545.5 1178.0 545.8 1179.7 546.1 1181.5 546.4 1183.2 546.7 1184.9 547.0 1186.6 547.3 1188.3 547.6 1190.1 547.9 1191.8 548.2 1193.5 548.5 1195.2 548.8 1196.9 549.1 1198.7 549.4 1200.4 549.7 1202.1 550.0 1203.8 550.3 1205.6 550.6 1207.3 550.9 1209.0 551.2 1210.8 551.5 1212.5 551.8 1214.2 552.1 1215.9 552.3 1217.7 552.6 1219.4 552.9 1221.1 553.2 1222.9 553.5 1224.6 553.8 1226.3 554.1 1228.0 554.4 1229.8 554.7 1231.5 555.0 1233.2 555.3 1235.0 555.6 1236.7 555.8 1238.4 556.1 1240.2 556.4 1241.9 556.8 1243.6 557.1 1245.3 557.4 1247.1 557.7 1248.8 558.0 1250.5 558.3 1252.2 558.6 1254.0 559.0 1255.7 559.3 1257.4 559.7 1259.1 560.0 1260.8 560.4 1262.6 560.7 1264.3 561.1 1266.0 561.4 1267.7 561.8 1269.4 562.2 1271.1 562.6 1272.8 563.0 1274.5 563.4 1276.2 563.8 1277.9 564.3 1279.6 564.7 1281.3 565.1 1283.0 565.6 1284.6 566.1 1286.3 566.5 1288.0 567.0 1289.7 567.5 1291.3 568.0 1293.0 568.5 1294.7 569.1 1296.3 569.6 1298.0 570.2 1299.6 570.7 1301.3 571.3 1302.9 571.9 1304.6 572.5 1306.2 573.1 1307.8 573.7 1309.4 574.3 1311.1 574.9 1312.7 575.6 1314.3 576.2 1315.9 576.9 1317.5 577.5 1319.1 578.2 1320.7 578.9 1322.3 579.6 1323.9 580.3 1325.5 581.0 1327.1 581.8 1328.7 582.5 1330.3 583.2 1331.8 584.0 1333.4 584.8 1335.0 585.5 1336.5 586.3 1338.1 587.1 1339.6 587.9 1341.2 588.7 1342.7 589.5 1344.3 590.3 1345.8 591.2 1347.3 592.0 1348.9 592.9 1350.4 593.7 1351.9 594.6 1353.4 595.5 1354.9 596.4 1356.4 597.2 1357.9 598.1 1359.4 599.1 1360.9 600.0 1362.4 600.9 1363.9 601.8 1365.4 602.8 1366.9 603.7 1368.3 604.6 1369.8 605.6 1371.3 606.6 1372.7 607.5 1374.2 608.5 1375.6 609.5 1377.1 610.5 1378.5 611.5 1379.9 612.5 1381.4 613.5 1382.8 614.6 1384.2 615.6 1385.6 616.6 1387.0 617.7 1388.4 618.7 1389.9 619.8 1391.3 620.8 1392.6 621.9 1394.0 623.0 1395.4 624.1 1396.8 625.1 1398.2 626.2 1399.5 627.3 1400.9 628.4 1402.3 629.5 1403.6 630.7 1405.0 631.8 1406.3 632.9 1407.6 634.0 1409.0 635.2 1410.3 636.3 1411.6 637.5 1413.0 638.6 1414.3 639.8 1415.6 640.9 1416.9 642.1 1418.2 643.3 1419.5 644.5 1420.8 645.6 1422.1 646.8 1423.3 648.0 1424.6 649.2 1425.9 650.4 1427.1 651.6 1428.4 652.8 1429.7 654.1 1430.9 655.3 1432.2 656.5 1433.4 657.7 1434.6 659.0 1435.9 660.2 1437.1 661.4 1438.3 662.7 1439.5 663.9 1440.7 665.2 1442.0 666.4 1443.2 667.7 1444.4 669.0 1445.6 670.2 1446.7 671.5 1447.9 672.8 1449.1 674.1 1450.3 675.4 1451.5 676.6 1452.7 677.9 1453.8 679.2 1455.0 680.5 1456.1 681.8 1457.3 683.1 1458.5 684.4 1459.6 685.8 1460.8 687.1 1461.9 688.4 1463.0 689.7 1464.2 691.0 1465.3 692.4 1466.4 693.7 1467.6 695.0 1468.7 696.4 1469.8 697.7 1470.9 699.1 1472.0 700.4 1473.1 701.8 1474.2 703.1 1475.4 704.5 1476.5 705.8 1477.6 707.2 1478.6 708.5 1479.7 709.9 1480.8 711.3 1481.9 712.6 1483.0 714.0 1484.1 715.4 1485.2 716.8 1486.2 718.1 1487.3 719.5 1488.4 720.9 1489.5 722.3 1490.5 723.7 1491.6 725.1 1492.7 726.5 1493.7 727.9 1494.8 729.2 1495.8 730.6 1496.9 732.0 1497.9 733.4 1499.0 734.8 1500.0 736.2 1501.1 737.7 1502.1 739.1 1503.2 740.5 1504.2 741.9 1505.3 743.3 1506.3 744.7 1507.3 746.1 1508.4 747.5 1509.4 749.0 1510.4 750.4 1511.5 751.8 1512.5 753.2 1513.5 754.6 1514.6 756.1 1515.6 757.5 1516.6 758.9 1517.6 760.3 1518.7 761.8 1519.7 763.2 1520.7 764.6 1521.7 766.0 1522.8 767.5 1523.8 768.9 1524.8 770.3 1525.8 771.8 1526.8 773.2 1527.8 774.6 1528.9 776.0 1529.9 777.5 1530.9 778.9 1531.9 780.3 1532.9 781.8 1533.9 783.2 1534.9 784.6 1536.0 786.1 1537.0 787.5 1538.0 788.9 1539.0 790.4 1540.0 791.8 1541.0 793.2 1542.0 794.7 1543.1 796.1 1544.1 797.5 1545.1 799.0 1546.1 800.4 1547.1 801.8 1548.1 803.3 1549.1 804.7 1550.2 806.1 1551.2 807.6 1552.2 809.0 1553.2 810.4 1554.2 811.8 1555.2 813.3 1556.3 814.7 1557.3 816.1 1558.3 817.5 1559.3 819.0 1560.3 820.4 1561.4 821.8 1562.4 823.2 1563.4 824.7 1564.4 826.1 1565.4 827.5 1566.5 828.9 1567.5 830.3 1568.5 831.8 1569.5 833.2 1570.6 834.6 1571.6 836.0 1572.6 837.4 1573.6 838.9 1574.7 840.3 1575.7 841.7 1576.7 843.1 1577.7 844.5 1578.8 845.9 1579.8 847.3 1580.8 848.8 1581.9 850.2 1582.9 851.6 1583.9 853.0 1585.0 854.4 1586.0 855.8 1587.0 857.2 1588.1 858.6 1589.1 860.0 1590.1 861.4 1591.2 862.9 1592.2 864.3 1593.3 865.7 1594.3 867.1 1595.3 868.5 1596.4 869.9 1597.4 871.3 1598.5 872.7 1599.5 874.1 1600.5 875.5 1601.6 876.9 1602.6 878.3 1603.7 879.7 1604.7 881.1 1605.8 882.5 1606.8 883.9 1607.9 885.3 1608.9 886.7 1610.0 888.1 1611.0 889.5 1612.1 890.9 1613.1 892.2 1614.2 893.6 1615.2 895.0 1616.3 896.4 1617.4 897.8 1618.4 899.2 1619.5 900.6 1620.5 902.0 1621.6 903.4 1622.7 904.8 1623.7 906.1 1624.8 907.5 1625.9 908.9 1626.9 910.3 1628.0 911.7 1629.1 913.1 1630.1 914.4 1631.2 915.8 1632.3 917.2 1633.3 918.6 1634.4 920.0 1635.5 921.3 1636.6 922.7 1637.6 924.1 1638.7 925.5 1639.8 926.8 1640.9 928.2 1642.0 929.6 1643.0 931.0 1644.1 932.3 1645.2 933.7 1646.3 935.1 1647.4 936.5 1648.5 937.8 1649.5 939.2 1650.6 940.6 1651.7 941.9 1652.8 943.3 1653.9 944.7 1655.0 946.0 1656.1 947.4 1657.2 948.7 1658.3 950.1 1659.4 951.5 1660.5 952.8 1661.6 954.2 1662.7 955.5 1663.8 956.9 1664.9 958.3 1666.0 959.6 1667.1 961.0 1668.2 962.3 1669.3 963.7 1670.5 965.0 1671.6 966.4 1672.7 967.7 1673.8 969.1 1674.9 970.4 1676.0 971.8 1677.2 973.1 1678.3 974.5 1679.4 975.8 1680.5 977.2 1681.6 978.5 1682.8 979.8 1683.9 981.2 1685.0 982.5 1686.2 983.8 1687.3 985.2 1688.4 986.5 1689.6 987.8 1690.7 989.2 1691.9 990.5 1693.0 991.8 1694.1 993.2 1695.3 994.5 1696.4 995.8 1697.6 997.1 1698.7 998.5 1699.9 999.8 1701.0 1001.1 1702.2 1002.4 1703.3 1003.7 1704.5 1005.0 1705.7 1006.3 1706.8 1007.6 1708.0 1009.0 1709.2 1010.3 1710.3 1011.6 1711.5 1012.9 1712.7 1014.2 1713.8 1015.5 1715.0 1016.8 1716.2 1018.1 1717.4 1019.3 1718.6 1020.6 1719.7 1021.9 1720.9 1023.2 1722.1 1024.5 1723.3 1025.8 1724.5 1027.1 1725.7 1028.3 1726.9 1029.6 1728.1 1030.9 1729.3 1032.2 1730.5 1033.4 1731.7 1034.7 1732.9 1036.0 1734.1 1037.2 1735.3 1038.5 1736.5 1039.8 1737.7 1041.0 1739.0 1042.3 1740.2 1043.5 1741.4 1044.8 1742.6 1046.0 1743.9 1047.3 1745.1 1048.5 1746.3 1049.8 1747.5 1051.0 1748.8 1052.2 1750.0 1053.5 1751.3 1054.7 1752.5 1055.9 1753.7 1057.2 1755.0 1058.4 1756.2 1059.6 1757.5 1060.8 1758.8 1062.0 1760.0 1063.2 1761.3 1064.5 1762.5 1065.7 1763.8 1066.9 1765.1 1068.1 1766.3 1069.3 1767.6 1070.5 1768.9 1071.7 1770.2 1072.9 1771.4 1074.0 1772.7 1075.2 1774.0 1076.4 1775.3 1077.6 1776.6 1078.8 1777.9 1080.0 1779.2 1081.1 1780.5 1082.3 1781.8 1083.5 1783.1 1084.6 1784.4 1085.8 1785.7 1086.9 1787.0 1088.1 1788.3 1089.2 1789.6 1090.4 1790.9 1091.5 1792.3 1092.7 1793.6 1093.8 1794.9 1094.9 1796.3 1096.1 1797.6 1097.2 1798.9 1098.3 1800.3 1099.5 1801.6 1100.6 1803.0 1101.7 1804.3 1102.8 1805.7 1103.9 1807.0 1105.0 1808.4 1106.1 1809.7 1107.2 1811.1 1108.3 1812.5 1109.4 1813.8 1110.5 1815.2 1111.6 1816.6 1112.7 1818.0 1113.7 1819.3 1114.8 1820.7 1115.9 1822.1 1116.9 1823.5 1118.0 1824.9 1119.1 1826.3 1120.1 1827.7 1121.2 1829.1 1122.2 1830.5 1123.3 1831.9 1124.3 1833.3 1125.3 1834.8 1126.4 1836.2 1127.4 1837.6 1128.4 1839.0 1129.4 1840.5 1130.5 1841.9 1131.5 1843.3 1132.5 1844.8 1133.5 1846.2 1134.5 1847.7 1135.5 1849.1 1136.5 1850.6 1137.5 1852.0 1138.5 1853.5 1139.4 1854.9 1140.4 1856.4 1141.4 1857.9 1142.4 1859.4 1143.3 1860.8 1144.3 1862.3 1145.2 1863.8 1146.2 1865.3 1147.1 1866.8 1148.1 1868.3 1149.0" stroke="#000"/>
</g>
<g fill="none" stroke="#000" stroke-width="1.7" stroke-dasharray="5 3">
<ellipse cx="443.2" cy="615.6" rx="48.3" ry="39.8"/>
<ellipse cx="1504.4" cy="1032.3" rx="44" ry="44.2"/>
</g>
<g stroke="#000" stroke-width="1.9">
<line x1="398.6" y1="599.9" x2="314" y2="599.9"/>
<line x1="1550.2" y1="1022" x2="1613" y2="1020.5"/>
<line x1="1469.5" y1="199.1" x2="1578.2" y2="264.8" stroke-width="1.5"/>
</g>
<polygon points="266.1,599.9 314.5,583.3 314.5,616.4" fill="#000"/>
<polygon points="1661.1,1019.5 1612.8,1004.7 1612.8,1036.9" fill="#000"/>
<g stroke-width="6.0" stroke-linecap="round">
<line x1="724" y1="82.2" x2="823" y2="82.2" stroke="#000"/>
<line x1="724" y1="138.9" x2="823" y2="138.9" stroke="#ff0000"/>
<line x1="724" y1="201.3" x2="823" y2="201.3" stroke="#0000ff"/>
</g>
<g font-family="'Liberation Sans', Arial, sans-serif" fill="#000">
<text x="836.68" y="98.60" font-size="46.95" textLength="292.50" lengthAdjust="spacingAndGlyphs">ASE reference</text>
<text x="836.20" y="154.50" font-size="46.95" textLength="754.94" lengthAdjust="spacingAndGlyphs">Reshaped ASE spectrum by the MZFI</text>
<text x="836.80" y="217.30" font-size="46.95" textLength="490.09" lengthAdjust="spacingAndGlyphs">Laser output wavelength</text>
<text x="1578.84" y="303.90" font-size="44.33" textLength="245.61" lengthAdjust="spacingAndGlyphs">1563.705 nm</text>
<text x="104.61" y="176.41" font-size="58.14" textLength="78.99" lengthAdjust="spacingAndGlyphs">-30</text>
<text x="104.61" y="393.83" font-size="58.14" textLength="78.99" lengthAdjust="spacingAndGlyphs">-35</text>
<text x="104.61" y="611.25" font-size="58.14" textLength="78.99" lengthAdjust="spacingAndGlyphs">-40</text>
<text x="104.61" y="828.67" font-size="58.14" textLength="78.99" lengthAdjust="spacingAndGlyphs">-45</text>
<text x="104.61" y="1046.09" font-size="58.14" textLength="78.99" lengthAdjust="spacingAndGlyphs">-50</text>
<text x="104.61" y="1263.52" font-size="58.14" textLength="78.99" lengthAdjust="spacingAndGlyphs">-55</text>
<text x="1911.50" y="66.80" font-size="58.14" textLength="60.79" lengthAdjust="spacingAndGlyphs">10</text>
<text x="1911.50" y="236.57" font-size="58.14" textLength="30.40" lengthAdjust="spacingAndGlyphs">0</text>
<text x="1911.50" y="406.33" font-size="58.14" textLength="78.99" lengthAdjust="spacingAndGlyphs">-10</text>
<text x="1911.50" y="576.10" font-size="58.14" textLength="78.99" lengthAdjust="spacingAndGlyphs">-20</text>
<text x="1911.50" y="745.87" font-size="58.14" textLength="78.99" lengthAdjust="spacingAndGlyphs">-30</text>
<text x="1911.50" y="915.64" font-size="58.14" textLength="78.99" lengthAdjust="spacingAndGlyphs">-40</text>
<text x="1911.50" y="1085.40" font-size="58.14" textLength="78.99" lengthAdjust="spacingAndGlyphs">-50</text>
<text x="1911.50" y="1255.17" font-size="58.14" textLength="78.99" lengthAdjust="spacingAndGlyphs">-60</text>
<text x="292.55" y="1375.40" font-size="58.14" textLength="121.58" lengthAdjust="spacingAndGlyphs">1520</text>
<text x="545.43" y="1375.40" font-size="58.14" textLength="121.58" lengthAdjust="spacingAndGlyphs">1530</text>
<text x="798.30" y="1375.40" font-size="58.14" textLength="121.58" lengthAdjust="spacingAndGlyphs">1540</text>
<text x="1051.18" y="1375.40" font-size="58.14" textLength="121.58" lengthAdjust="spacingAndGlyphs">1550</text>
<text x="1304.06" y="1375.40" font-size="58.14" textLength="121.58" lengthAdjust="spacingAndGlyphs">1560</text>
<text x="1556.93" y="1375.40" font-size="58.14" textLength="121.58" lengthAdjust="spacingAndGlyphs">1570</text>
<text x="1809.81" y="1375.40" font-size="58.14" textLength="121.58" lengthAdjust="spacingAndGlyphs">1580</text>
<text x="797.66" y="1472.50" font-size="63.66" textLength="503.38" lengthAdjust="spacingAndGlyphs">Wavelength [nm]</text>
<text transform="translate(81.20 965.45) rotate(-90)" font-size="69.62" textLength="593.58" lengthAdjust="spacingAndGlyphs">Transmission [dBm]</text>
<text transform="translate(2065.40 966.72) rotate(-90)" font-size="69.21" textLength="596.40" lengthAdjust="spacingAndGlyphs">Output power [dBm]</text>
</g>
</svg>
</body></html>
